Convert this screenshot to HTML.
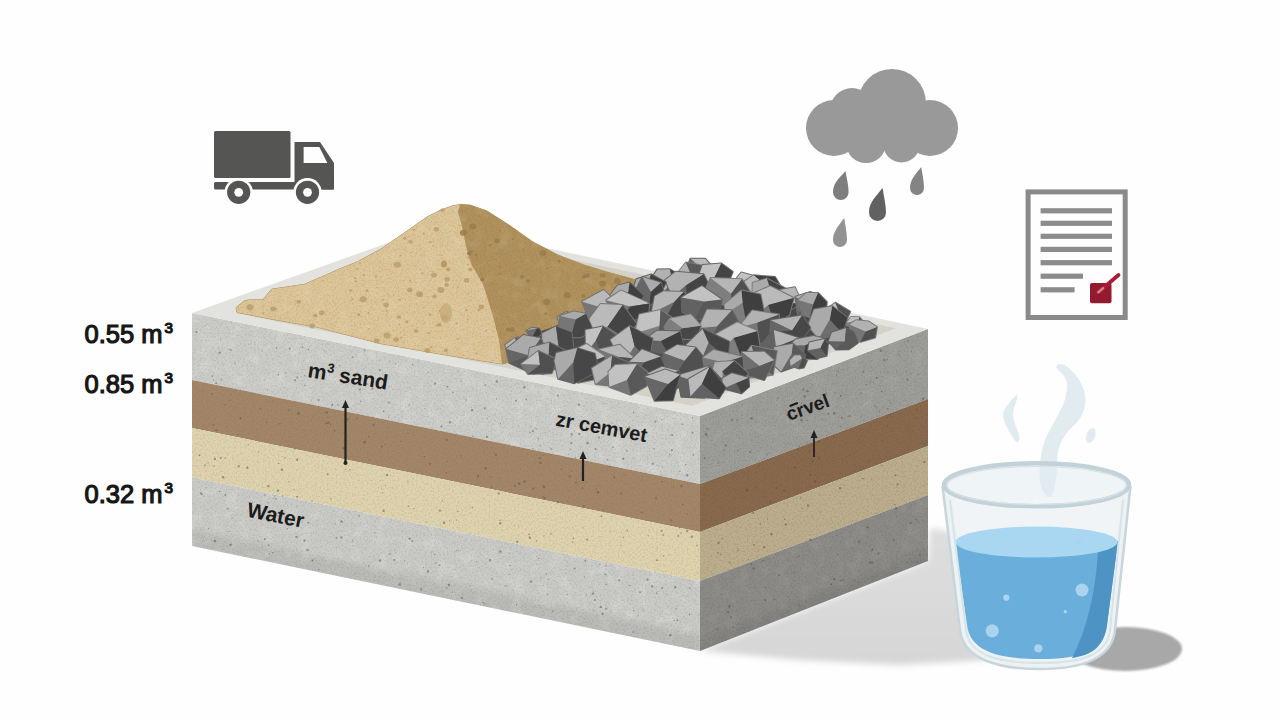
<!DOCTYPE html>
<html><head><meta charset="utf-8"><style>
html,body{margin:0;padding:0;background:#fefefe;overflow:hidden;}
svg{display:block;}
</style></head><body>
<svg width="1280" height="720" viewBox="0 0 1280 720">
<defs>
<clipPath id="frontclip"><polygon points="192,313 700,416 700,651 192,546"/></clipPath>
<clipPath id="rightclip"><polygon points="700,416 928,329 928,561 700,651"/></clipPath>
<filter id="speck" x="0" y="0" width="100%" height="100%">
<feTurbulence type="fractalNoise" baseFrequency="0.55" numOctaves="3" seed="5" result="n"/>
<feColorMatrix in="n" type="matrix" values="0 0 0 0 0  0 0 0 0 0  0 0 0 0 0  0 0 0 -3 1.6" result="a"/>
<feComposite in="SourceGraphic" in2="a" operator="in"/>
</filter>
<filter id="mottle" x="0" y="0" width="100%" height="100%">
<feTurbulence type="fractalNoise" baseFrequency="0.08" numOctaves="2" seed="9" result="n"/>
<feColorMatrix in="n" type="matrix" values="0 0 0 0 1  0 0 0 0 1  0 0 0 0 1  0 0 0 2.2 -1.0" result="a"/>
</filter>
<filter id="blur10" x="-50%" y="-50%" width="200%" height="200%"><feGaussianBlur stdDeviation="9"/></filter>
<filter id="blur3s" x="-50%" y="-50%" width="200%" height="200%"><feGaussianBlur stdDeviation="3"/></filter>
<filter id="blur6" x="-50%" y="-50%" width="200%" height="200%"><feGaussianBlur stdDeviation="5"/></filter>
<filter id="blur4" x="-50%" y="-50%" width="200%" height="200%"><feGaussianBlur stdDeviation="3"/></filter>
<filter id="blur1" x="-50%" y="-50%" width="200%" height="200%"><feGaussianBlur stdDeviation="1.2"/></filter>
<linearGradient id="shadowg" x1="0" y1="0" x2="0" y2="1">
<stop offset="0" stop-color="#dedede"/><stop offset="1" stop-color="#d6d6d6"/></linearGradient>
</defs>
<rect width="1280" height="720" fill="#fefefe"/>
<polygon points="700.0,651.0 928.0,561.0 930.0,528.0 985.0,538.0 985.0,660.0 900.0,665.0 800.0,660.0" fill="url(#shadowg)" filter="url(#blur3s)"/>
<polygon points="192.0,313.0 700.0,416.0 700.0,484.0 192.0,380.0" fill="#cbcbc7"/>
<polygon points="192.0,380.0 700.0,484.0 700.0,532.0 192.0,428.0" fill="#a38668"/>
<polygon points="192.0,428.0 700.0,532.0 700.0,581.0 192.0,477.5" fill="#dfd3ae"/>
<polygon points="192.0,477.5 700.0,581.0 700.0,651.0 192.0,546.0" fill="#c9c9c5"/>
<polygon points="700.0,416.0 928.0,329.0 928.0,399.0 700.0,484.0" fill="#9c9c98"/>
<polygon points="700.0,484.0 928.0,399.0 928.0,446.0 700.0,532.0" fill="#88694c"/>
<polygon points="700.0,532.0 928.0,446.0 928.0,495.0 700.0,581.0" fill="#bcae8c"/>
<polygon points="700.0,581.0 928.0,495.0 928.0,561.0 700.0,651.0" fill="#8b8a86"/>
<clipPath id="grayclipf"><path d="M192,313 L700,416 L700,484 L192,380 Z M192,477.5 L700,581 L700,651 L192,546 Z"/></clipPath>
<clipPath id="grayclipr"><path d="M700,416 L928,329 L928,399 L700,484 Z M700,581 L928,495 L928,561 L700,651 Z"/></clipPath>
<g clip-path="url(#grayclipf)"><rect x="190" y="300" width="520" height="360" fill="#fff" filter="url(#mottle)" opacity="0.22"/></g>
<g clip-path="url(#grayclipr)"><rect x="695" y="320" width="240" height="340" fill="#fff" filter="url(#mottle)" opacity="0.08"/></g>
<g clip-path="url(#frontclip)"><rect x="190" y="300" width="520" height="360" fill="#555" filter="url(#speck)" opacity="0.14"/></g>
<g clip-path="url(#rightclip)"><rect x="695" y="320" width="240" height="340" fill="#444" filter="url(#speck)" opacity="0.15"/></g>
<g fill="#4a4a48" opacity="0.45"><circle cx="278.0" cy="490.6" r="1.2"/><circle cx="336.5" cy="537.9" r="0.8"/><circle cx="601.4" cy="516.2" r="1.0"/><circle cx="460.4" cy="550.8" r="0.5"/><circle cx="381.6" cy="487.9" r="0.5"/><circle cx="267.9" cy="502.7" r="0.6"/><circle cx="544.0" cy="487.0" r="1.2"/><circle cx="582.7" cy="488.0" r="0.8"/><circle cx="212.1" cy="394.4" r="0.8"/><circle cx="544.0" cy="535.9" r="0.7"/><circle cx="206.7" cy="487.7" r="0.5"/><circle cx="257.8" cy="541.1" r="0.8"/><circle cx="276.0" cy="499.1" r="0.8"/><circle cx="438.8" cy="408.0" r="0.5"/><circle cx="431.4" cy="552.1" r="0.5"/><circle cx="587.5" cy="443.3" r="1.2"/><circle cx="574.7" cy="568.4" r="1.0"/><circle cx="692.4" cy="432.8" r="1.0"/><circle cx="434.6" cy="554.4" r="0.6"/><circle cx="366.6" cy="384.0" r="1.0"/><circle cx="401.0" cy="441.3" r="0.8"/><circle cx="447.2" cy="439.9" r="0.8"/><circle cx="389.5" cy="361.2" r="0.5"/><circle cx="274.9" cy="496.0" r="0.8"/><circle cx="196.4" cy="332.0" r="1.0"/><circle cx="571.3" cy="443.1" r="1.0"/><circle cx="355.3" cy="573.2" r="0.5"/><circle cx="285.9" cy="373.0" r="0.7"/><circle cx="614.3" cy="477.3" r="1.0"/><circle cx="662.6" cy="467.2" r="0.6"/><circle cx="228.0" cy="508.8" r="0.8"/><circle cx="383.6" cy="510.8" r="1.2"/><circle cx="456.4" cy="520.0" r="0.6"/><circle cx="399.7" cy="584.4" r="1.2"/><circle cx="492.0" cy="579.1" r="0.8"/><circle cx="449.6" cy="520.6" r="0.6"/><circle cx="276.6" cy="348.1" r="0.8"/><circle cx="584.3" cy="505.9" r="0.7"/><circle cx="221.2" cy="380.0" r="0.7"/><circle cx="212.5" cy="376.1" r="0.8"/><circle cx="229.9" cy="400.2" r="0.6"/><circle cx="689.7" cy="588.2" r="0.8"/><circle cx="219.8" cy="352.6" r="1.2"/><circle cx="459.4" cy="536.8" r="0.5"/><circle cx="674.3" cy="620.5" r="0.7"/><circle cx="595.0" cy="600.0" r="1.0"/><circle cx="583.7" cy="506.1" r="0.8"/><circle cx="349.9" cy="469.7" r="0.7"/><circle cx="265.1" cy="495.1" r="0.8"/><circle cx="539.7" cy="605.3" r="0.5"/><circle cx="328.0" cy="417.4" r="0.6"/><circle cx="623.4" cy="537.3" r="0.7"/><circle cx="538.6" cy="558.4" r="0.6"/><circle cx="262.2" cy="351.0" r="0.5"/><circle cx="288.9" cy="481.8" r="0.6"/><circle cx="231.2" cy="350.2" r="0.7"/><circle cx="258.6" cy="452.0" r="0.7"/><circle cx="394.3" cy="560.1" r="1.0"/><circle cx="278.5" cy="374.7" r="0.8"/><circle cx="296.4" cy="506.9" r="0.5"/><circle cx="498.8" cy="493.4" r="1.2"/><circle cx="584.4" cy="576.9" r="0.5"/><circle cx="390.0" cy="553.8" r="0.8"/><circle cx="579.3" cy="433.9" r="1.2"/><circle cx="312.4" cy="560.6" r="1.0"/><circle cx="352.7" cy="357.2" r="0.8"/><circle cx="273.6" cy="498.1" r="0.7"/><circle cx="606.3" cy="584.2" r="0.8"/><circle cx="672.0" cy="435.1" r="1.0"/><circle cx="225.2" cy="458.0" r="0.7"/><circle cx="681.5" cy="485.9" r="1.2"/><circle cx="509.2" cy="553.8" r="0.6"/><circle cx="227.1" cy="508.8" r="0.6"/><circle cx="373.7" cy="424.9" r="0.8"/><circle cx="249.1" cy="344.0" r="0.5"/><circle cx="510.2" cy="565.5" r="0.8"/><circle cx="449.0" cy="584.9" r="1.2"/><circle cx="519.3" cy="483.3" r="1.0"/><circle cx="453.0" cy="569.4" r="0.5"/><circle cx="308.4" cy="349.8" r="0.8"/><circle cx="216.1" cy="383.0" r="1.0"/><circle cx="606.1" cy="565.9" r="0.8"/><circle cx="596.2" cy="488.9" r="0.7"/><circle cx="439.9" cy="510.6" r="1.2"/><circle cx="238.0" cy="434.3" r="0.8"/><circle cx="382.6" cy="492.6" r="0.6"/><circle cx="587.1" cy="539.6" r="1.0"/><circle cx="531.0" cy="581.6" r="1.2"/><circle cx="607.6" cy="459.7" r="0.8"/><circle cx="656.1" cy="498.2" r="1.0"/><circle cx="387.1" cy="475.0" r="1.2"/><circle cx="692.6" cy="418.0" r="0.7"/><circle cx="296.6" cy="537.1" r="1.2"/><circle cx="268.1" cy="457.3" r="0.5"/><circle cx="457.8" cy="511.5" r="0.8"/><circle cx="568.4" cy="497.9" r="0.5"/><circle cx="693.4" cy="455.1" r="0.8"/><circle cx="298.5" cy="413.5" r="1.2"/><circle cx="487.6" cy="418.4" r="0.5"/><circle cx="673.5" cy="487.0" r="0.7"/><circle cx="670.3" cy="635.3" r="1.2"/><circle cx="450.0" cy="422.2" r="1.2"/><circle cx="334.5" cy="430.9" r="0.8"/><circle cx="429.9" cy="463.7" r="1.0"/><circle cx="529.9" cy="537.7" r="1.2"/><circle cx="388.5" cy="417.4" r="0.6"/><circle cx="685.5" cy="464.8" r="0.7"/><circle cx="602.6" cy="613.8" r="1.2"/><circle cx="379.9" cy="370.3" r="1.0"/><circle cx="214.8" cy="458.9" r="1.2"/><circle cx="421.2" cy="589.3" r="1.0"/><circle cx="269.4" cy="553.8" r="0.6"/><circle cx="423.4" cy="567.6" r="0.7"/><circle cx="278.6" cy="463.5" r="0.8"/><circle cx="461.3" cy="380.9" r="0.6"/><circle cx="404.8" cy="561.0" r="0.6"/><circle cx="308.2" cy="522.7" r="1.0"/><circle cx="660.4" cy="613.9" r="0.5"/><circle cx="526.3" cy="399.6" r="0.8"/><circle cx="647.5" cy="579.7" r="1.2"/><circle cx="289.7" cy="348.5" r="1.0"/><circle cx="500.1" cy="520.3" r="0.8"/><circle cx="536.6" cy="540.6" r="0.6"/><circle cx="330.7" cy="424.2" r="0.7"/><circle cx="516.9" cy="383.0" r="0.5"/><circle cx="531.1" cy="426.7" r="0.5"/><circle cx="536.0" cy="428.5" r="0.7"/><circle cx="372.2" cy="388.8" r="1.0"/><circle cx="444.0" cy="522.7" r="1.2"/><circle cx="395.9" cy="363.8" r="0.6"/><circle cx="663.2" cy="534.9" r="0.8"/><circle cx="295.1" cy="380.3" r="1.0"/><circle cx="408.0" cy="433.4" r="0.6"/><circle cx="302.5" cy="346.7" r="0.7"/><circle cx="500.2" cy="523.2" r="1.2"/><circle cx="282.6" cy="496.1" r="0.8"/><circle cx="435.7" cy="563.1" r="0.8"/><circle cx="600.8" cy="606.9" r="1.2"/><circle cx="223.0" cy="477.3" r="1.2"/><circle cx="649.1" cy="530.8" r="0.5"/><circle cx="683.0" cy="504.7" r="0.8"/><circle cx="666.2" cy="594.4" r="0.5"/><circle cx="654.3" cy="448.8" r="0.7"/><circle cx="500.4" cy="551.5" r="1.2"/><circle cx="571.5" cy="434.0" r="1.0"/><circle cx="446.8" cy="461.5" r="0.6"/><circle cx="697.0" cy="545.6" r="0.8"/><circle cx="567.2" cy="594.5" r="0.7"/><circle cx="652.8" cy="463.8" r="1.0"/><circle cx="284.7" cy="457.6" r="0.7"/><circle cx="483.2" cy="602.8" r="0.8"/><circle cx="675.2" cy="587.3" r="1.2"/><circle cx="567.3" cy="562.0" r="0.6"/><circle cx="661.6" cy="531.0" r="1.0"/><circle cx="343.9" cy="382.8" r="1.2"/><circle cx="408.4" cy="506.2" r="0.8"/><circle cx="572.9" cy="542.2" r="0.7"/><circle cx="287.7" cy="524.1" r="0.6"/><circle cx="441.3" cy="426.6" r="1.0"/><circle cx="626.9" cy="450.7" r="0.7"/><circle cx="490.0" cy="560.2" r="1.2"/><circle cx="265.1" cy="380.0" r="0.6"/><circle cx="384.6" cy="444.5" r="0.5"/><circle cx="586.1" cy="594.7" r="0.7"/><circle cx="484.9" cy="604.0" r="0.6"/><circle cx="439.5" cy="565.2" r="1.0"/><circle cx="603.6" cy="509.8" r="0.5"/><circle cx="208.6" cy="528.3" r="0.6"/><circle cx="446.4" cy="472.7" r="0.8"/><circle cx="478.0" cy="476.1" r="1.2"/><circle cx="543.6" cy="585.6" r="0.5"/><circle cx="383.6" cy="411.4" r="0.8"/><circle cx="593.8" cy="610.5" r="0.6"/><circle cx="494.5" cy="453.0" r="0.5"/><circle cx="570.2" cy="449.0" r="0.6"/><circle cx="268.5" cy="521.1" r="0.7"/><circle cx="247.4" cy="467.7" r="1.2"/><circle cx="304.8" cy="385.3" r="0.8"/><circle cx="582.9" cy="508.4" r="0.5"/><circle cx="540.3" cy="462.8" r="1.2"/><circle cx="457.9" cy="371.0" r="0.6"/><circle cx="337.7" cy="404.8" r="0.8"/><circle cx="225.4" cy="495.0" r="1.0"/><circle cx="524.4" cy="387.3" r="1.2"/><circle cx="311.9" cy="501.0" r="0.8"/><circle cx="446.8" cy="588.0" r="0.7"/><circle cx="412.6" cy="364.6" r="0.7"/><circle cx="266.7" cy="422.3" r="0.8"/><circle cx="514.8" cy="485.7" r="1.0"/><circle cx="489.9" cy="476.5" r="0.6"/><circle cx="205.0" cy="465.0" r="0.8"/><circle cx="619.3" cy="580.3" r="1.0"/><circle cx="571.8" cy="471.5" r="0.6"/><circle cx="278.0" cy="515.7" r="0.7"/><circle cx="543.3" cy="455.2" r="0.5"/><circle cx="424.8" cy="408.6" r="0.5"/><circle cx="509.0" cy="574.4" r="0.6"/><circle cx="472.1" cy="410.1" r="1.2"/><circle cx="253.2" cy="420.3" r="0.5"/><circle cx="297.2" cy="496.8" r="1.0"/><circle cx="204.0" cy="496.1" r="0.6"/><circle cx="496.5" cy="398.9" r="0.6"/><circle cx="412.2" cy="540.9" r="1.0"/><circle cx="546.3" cy="574.0" r="0.8"/><circle cx="347.2" cy="419.5" r="1.2"/><circle cx="374.8" cy="532.4" r="0.5"/><circle cx="485.3" cy="385.1" r="0.8"/><circle cx="583.0" cy="527.9" r="0.6"/><circle cx="214.1" cy="466.2" r="0.7"/><circle cx="585.4" cy="560.7" r="1.0"/><circle cx="610.0" cy="466.4" r="0.7"/><circle cx="529.0" cy="534.4" r="0.8"/><circle cx="656.0" cy="476.7" r="0.5"/><circle cx="339.5" cy="365.7" r="0.7"/><circle cx="607.8" cy="431.1" r="1.2"/><circle cx="270.1" cy="401.6" r="0.5"/><circle cx="330.6" cy="498.6" r="0.6"/><circle cx="219.7" cy="491.5" r="0.8"/><circle cx="452.9" cy="392.3" r="0.8"/><circle cx="304.6" cy="540.5" r="1.2"/><circle cx="294.8" cy="449.3" r="0.7"/><circle cx="500.9" cy="477.8" r="0.5"/><circle cx="409.0" cy="405.0" r="0.5"/><circle cx="304.5" cy="375.8" r="0.7"/><circle cx="201.6" cy="494.1" r="1.2"/><circle cx="679.9" cy="471.4" r="0.7"/><circle cx="460.8" cy="455.9" r="0.7"/><circle cx="547.7" cy="594.2" r="0.6"/><circle cx="542.9" cy="496.8" r="0.7"/><circle cx="380.1" cy="560.5" r="1.2"/><circle cx="268.3" cy="486.2" r="1.2"/><circle cx="534.9" cy="606.7" r="0.5"/><circle cx="318.8" cy="569.5" r="0.7"/><circle cx="476.6" cy="561.7" r="0.6"/><circle cx="557.9" cy="395.6" r="1.0"/><circle cx="332.3" cy="404.7" r="1.0"/><circle cx="580.7" cy="446.9" r="0.5"/><circle cx="633.7" cy="610.7" r="0.8"/><circle cx="687.2" cy="530.7" r="1.2"/><circle cx="529.9" cy="432.3" r="0.6"/><circle cx="524.5" cy="481.6" r="1.2"/><circle cx="662.1" cy="588.1" r="1.0"/><circle cx="389.3" cy="386.5" r="0.5"/><circle cx="574.4" cy="430.8" r="0.5"/><circle cx="579.0" cy="404.6" r="1.2"/><circle cx="359.9" cy="389.6" r="1.0"/><circle cx="343.8" cy="448.2" r="1.2"/><circle cx="341.5" cy="521.4" r="1.2"/><circle cx="473.7" cy="436.4" r="0.5"/><circle cx="548.0" cy="579.6" r="0.7"/><circle cx="428.0" cy="571.5" r="1.2"/><circle cx="328.4" cy="422.8" r="1.0"/><circle cx="368.5" cy="565.8" r="0.7"/><circle cx="298.0" cy="373.4" r="0.5"/><circle cx="335.2" cy="523.9" r="0.5"/><circle cx="682.1" cy="424.3" r="0.7"/><circle cx="543.7" cy="502.6" r="0.5"/><circle cx="599.0" cy="437.5" r="1.0"/><circle cx="538.5" cy="438.7" r="0.6"/><circle cx="621.0" cy="545.4" r="0.6"/><circle cx="500.5" cy="423.3" r="0.6"/><circle cx="662.1" cy="481.5" r="0.7"/><circle cx="359.1" cy="515.9" r="0.8"/><circle cx="593.1" cy="593.5" r="1.2"/><circle cx="661.7" cy="419.7" r="0.7"/><circle cx="356.6" cy="418.2" r="0.8"/><circle cx="582.2" cy="437.8" r="0.5"/><circle cx="505.8" cy="585.8" r="0.8"/><circle cx="426.8" cy="521.9" r="0.6"/><circle cx="289.0" cy="475.9" r="0.5"/><circle cx="637.8" cy="615.7" r="0.5"/><circle cx="648.5" cy="535.8" r="0.6"/><circle cx="606.0" cy="608.7" r="1.0"/><circle cx="599.6" cy="564.3" r="0.5"/><circle cx="691.9" cy="536.7" r="1.2"/><circle cx="514.6" cy="525.5" r="0.5"/><circle cx="633.4" cy="632.0" r="0.8"/><circle cx="240.3" cy="418.2" r="1.0"/><circle cx="629.3" cy="585.5" r="0.8"/><circle cx="572.1" cy="435.1" r="0.7"/><circle cx="516.6" cy="604.7" r="0.7"/><circle cx="229.6" cy="531.5" r="0.6"/><circle cx="657.0" cy="560.2" r="1.0"/><circle cx="326.6" cy="423.2" r="1.0"/><circle cx="569.6" cy="476.4" r="1.0"/><circle cx="220.7" cy="338.9" r="0.6"/><circle cx="641.9" cy="512.4" r="0.8"/><circle cx="341.5" cy="537.4" r="1.2"/><circle cx="472.3" cy="436.2" r="0.6"/><circle cx="540.0" cy="458.2" r="1.0"/><circle cx="491.6" cy="487.0" r="0.8"/><circle cx="573.5" cy="538.2" r="0.7"/><circle cx="297.4" cy="377.6" r="1.0"/><circle cx="460.6" cy="577.7" r="0.5"/><circle cx="669.7" cy="454.7" r="0.8"/><circle cx="408.0" cy="481.8" r="0.6"/><circle cx="447.5" cy="386.8" r="1.0"/><circle cx="518.6" cy="526.0" r="0.5"/><circle cx="621.4" cy="532.0" r="0.5"/><circle cx="297.2" cy="459.7" r="1.2"/><circle cx="200.6" cy="493.0" r="1.0"/><circle cx="683.0" cy="595.0" r="0.6"/><circle cx="517.2" cy="541.8" r="1.2"/><circle cx="621.2" cy="493.5" r="1.0"/><circle cx="543.3" cy="485.6" r="0.5"/><circle cx="552.8" cy="611.3" r="0.8"/><circle cx="294.1" cy="489.6" r="0.7"/><circle cx="663.6" cy="556.0" r="0.8"/><circle cx="442.3" cy="500.7" r="0.6"/><circle cx="225.0" cy="404.7" r="0.7"/><circle cx="678.3" cy="535.9" r="1.0"/><circle cx="223.8" cy="477.0" r="0.6"/><circle cx="629.4" cy="427.5" r="1.2"/><circle cx="595.6" cy="449.1" r="1.0"/><circle cx="281.9" cy="469.7" r="1.2"/><circle cx="657.3" cy="548.9" r="0.5"/><circle cx="676.2" cy="609.0" r="0.8"/><circle cx="610.6" cy="531.0" r="0.6"/><circle cx="279.8" cy="423.8" r="0.7"/><circle cx="428.3" cy="372.5" r="0.6"/><circle cx="268.5" cy="545.2" r="0.8"/><circle cx="518.8" cy="484.4" r="0.8"/><circle cx="598.6" cy="485.8" r="0.5"/><circle cx="533.0" cy="431.3" r="1.0"/><circle cx="612.0" cy="423.1" r="0.7"/><circle cx="214.9" cy="541.0" r="1.2"/><circle cx="364.5" cy="442.2" r="1.2"/><circle cx="435.1" cy="383.6" r="1.2"/><circle cx="655.4" cy="421.4" r="1.0"/><circle cx="484.7" cy="408.2" r="1.0"/><circle cx="445.8" cy="439.9" r="0.5"/><circle cx="424.5" cy="456.8" r="0.8"/><circle cx="605.5" cy="574.5" r="1.0"/><circle cx="598.1" cy="492.2" r="1.2"/><circle cx="652.2" cy="586.4" r="1.2"/><circle cx="551.1" cy="448.9" r="0.8"/><circle cx="327.6" cy="474.3" r="1.0"/><circle cx="409.6" cy="538.6" r="1.2"/><circle cx="586.2" cy="482.6" r="0.7"/><circle cx="642.9" cy="609.0" r="0.6"/><circle cx="352.5" cy="540.7" r="0.7"/><circle cx="575.5" cy="458.0" r="0.8"/><circle cx="208.1" cy="462.7" r="0.7"/><circle cx="230.1" cy="349.6" r="0.8"/><circle cx="671.3" cy="520.6" r="0.8"/><circle cx="360.7" cy="401.5" r="0.7"/><circle cx="233.0" cy="518.0" r="0.6"/><circle cx="470.0" cy="585.3" r="0.6"/><circle cx="382.0" cy="446.5" r="1.0"/><circle cx="681.1" cy="532.7" r="0.8"/><circle cx="248.5" cy="444.8" r="0.6"/><circle cx="238.7" cy="466.1" r="1.2"/><circle cx="679.4" cy="527.7" r="0.8"/><circle cx="595.6" cy="449.5" r="0.6"/><circle cx="204.4" cy="466.0" r="0.6"/><circle cx="220.8" cy="458.0" r="1.0"/><circle cx="545.2" cy="432.2" r="0.5"/><circle cx="661.4" cy="475.1" r="0.5"/><circle cx="610.5" cy="611.1" r="0.5"/><circle cx="540.9" cy="577.8" r="0.6"/><circle cx="656.7" cy="593.2" r="0.8"/><circle cx="368.6" cy="436.7" r="0.8"/><circle cx="568.7" cy="454.2" r="0.5"/><circle cx="466.3" cy="400.0" r="0.8"/><circle cx="472.5" cy="507.5" r="0.7"/><circle cx="670.5" cy="519.1" r="0.5"/><circle cx="487.1" cy="436.9" r="1.2"/><circle cx="540.3" cy="446.0" r="0.7"/><circle cx="349.2" cy="512.1" r="0.6"/><circle cx="677.4" cy="620.3" r="1.0"/><circle cx="213.4" cy="379.8" r="0.6"/><circle cx="390.5" cy="475.4" r="0.5"/><circle cx="687.1" cy="475.2" r="1.2"/><circle cx="516.0" cy="400.8" r="1.0"/><circle cx="369.4" cy="459.9" r="0.7"/><circle cx="230.5" cy="544.9" r="1.2"/><circle cx="623.2" cy="458.7" r="1.2"/><circle cx="364.5" cy="350.1" r="0.8"/><circle cx="551.0" cy="534.0" r="0.8"/><circle cx="671.9" cy="450.2" r="1.0"/><circle cx="202.6" cy="541.5" r="0.5"/><circle cx="267.4" cy="390.0" r="0.5"/><circle cx="264.9" cy="538.9" r="1.0"/><circle cx="307.5" cy="549.9" r="1.2"/><circle cx="612.8" cy="447.0" r="0.7"/><circle cx="624.2" cy="475.0" r="0.6"/><circle cx="260.5" cy="408.7" r="0.8"/><circle cx="532.7" cy="448.6" r="0.7"/><circle cx="389.0" cy="402.6" r="1.0"/><circle cx="287.3" cy="528.8" r="0.7"/><circle cx="633.8" cy="412.2" r="0.7"/><circle cx="318.6" cy="400.0" r="1.0"/><circle cx="485.6" cy="468.3" r="1.2"/><circle cx="496.0" cy="454.7" r="1.0"/><circle cx="199.5" cy="455.3" r="1.0"/><circle cx="213.6" cy="424.9" r="0.8"/><circle cx="533.4" cy="488.6" r="1.0"/><circle cx="272.7" cy="552.7" r="0.8"/><circle cx="414.1" cy="508.5" r="0.6"/><circle cx="461.7" cy="597.7" r="1.0"/><circle cx="216.3" cy="430.2" r="1.0"/><circle cx="687.3" cy="513.9" r="0.7"/><circle cx="409.6" cy="387.8" r="0.5"/><circle cx="326.7" cy="412.4" r="1.2"/><circle cx="288.7" cy="410.0" r="0.8"/><circle cx="561.0" cy="469.2" r="0.6"/><circle cx="689.5" cy="614.5" r="0.7"/><circle cx="544.6" cy="498.1" r="1.2"/><circle cx="452.6" cy="592.1" r="0.6"/><circle cx="558.0" cy="502.2" r="1.0"/><circle cx="235.0" cy="363.0" r="0.7"/><circle cx="640.0" cy="592.2" r="1.0"/><circle cx="627.2" cy="530.3" r="0.8"/><circle cx="388.4" cy="427.3" r="0.6"/><circle cx="385.3" cy="485.4" r="0.6"/><circle cx="456.9" cy="550.5" r="0.7"/><circle cx="345.5" cy="469.4" r="0.7"/><circle cx="496.9" cy="381.6" r="1.2"/><circle cx="576.0" cy="482.4" r="0.8"/><circle cx="252.7" cy="502.3" r="0.6"/><circle cx="855.5" cy="524.5" r="0.5"/><circle cx="748.4" cy="559.7" r="0.8"/><circle cx="718.0" cy="552.9" r="0.8"/><circle cx="737.6" cy="450.7" r="0.8"/><circle cx="705.8" cy="434.0" r="1.2"/><circle cx="811.9" cy="516.1" r="0.6"/><circle cx="810.1" cy="475.1" r="1.0"/><circle cx="746.3" cy="580.2" r="0.5"/><circle cx="924.3" cy="461.9" r="1.2"/><circle cx="866.3" cy="384.7" r="0.6"/><circle cx="771.5" cy="534.3" r="1.2"/><circle cx="872.2" cy="549.9" r="1.0"/><circle cx="723.5" cy="450.0" r="0.7"/><circle cx="863.3" cy="371.8" r="1.0"/><circle cx="760.2" cy="523.8" r="0.8"/><circle cx="796.5" cy="597.3" r="0.5"/><circle cx="799.2" cy="605.2" r="0.6"/><circle cx="770.3" cy="502.5" r="1.2"/><circle cx="804.8" cy="396.3" r="1.2"/><circle cx="863.0" cy="478.8" r="0.8"/><circle cx="861.6" cy="478.4" r="0.5"/><circle cx="836.4" cy="374.9" r="0.6"/><circle cx="809.6" cy="551.1" r="0.5"/><circle cx="893.3" cy="428.8" r="0.6"/><circle cx="777.9" cy="610.3" r="0.5"/><circle cx="896.0" cy="508.4" r="1.2"/><circle cx="733.9" cy="477.2" r="0.5"/><circle cx="801.5" cy="403.3" r="0.7"/><circle cx="715.4" cy="445.1" r="0.6"/><circle cx="731.0" cy="617.2" r="1.0"/><circle cx="881.9" cy="465.4" r="0.7"/><circle cx="802.0" cy="508.7" r="0.6"/><circle cx="710.1" cy="598.0" r="0.5"/><circle cx="799.3" cy="445.9" r="0.7"/><circle cx="846.5" cy="567.8" r="0.5"/><circle cx="750.1" cy="452.1" r="1.0"/><circle cx="809.4" cy="451.0" r="0.8"/><circle cx="765.6" cy="587.4" r="0.6"/><circle cx="799.5" cy="556.2" r="0.8"/><circle cx="838.0" cy="371.2" r="0.7"/><circle cx="879.6" cy="411.5" r="0.8"/><circle cx="840.2" cy="488.3" r="1.2"/><circle cx="737.6" cy="548.7" r="0.6"/><circle cx="721.3" cy="594.1" r="0.8"/><circle cx="784.1" cy="490.7" r="1.0"/><circle cx="915.8" cy="519.5" r="0.7"/><circle cx="841.0" cy="426.2" r="0.6"/><circle cx="852.6" cy="520.8" r="0.5"/><circle cx="753.9" cy="545.1" r="1.0"/><circle cx="777.7" cy="398.3" r="0.8"/><circle cx="871.7" cy="478.9" r="0.7"/><circle cx="820.6" cy="512.7" r="0.5"/><circle cx="889.8" cy="414.8" r="1.0"/><circle cx="880.6" cy="350.7" r="1.2"/><circle cx="840.8" cy="580.8" r="0.8"/><circle cx="907.5" cy="562.2" r="0.6"/><circle cx="799.8" cy="608.0" r="0.6"/><circle cx="817.5" cy="573.0" r="0.6"/><circle cx="801.1" cy="410.7" r="0.6"/><circle cx="906.6" cy="371.8" r="0.6"/><circle cx="733.3" cy="627.4" r="0.7"/><circle cx="881.6" cy="391.5" r="0.8"/><circle cx="894.2" cy="456.1" r="0.5"/><circle cx="870.2" cy="381.7" r="0.6"/><circle cx="794.0" cy="572.1" r="0.8"/><circle cx="726.1" cy="445.6" r="0.8"/><circle cx="753.2" cy="513.1" r="1.0"/><circle cx="851.5" cy="473.0" r="0.5"/><circle cx="784.8" cy="519.2" r="0.8"/><circle cx="843.6" cy="484.8" r="0.6"/><circle cx="704.0" cy="599.8" r="0.6"/><circle cx="766.8" cy="454.8" r="0.7"/><circle cx="836.7" cy="535.4" r="0.6"/><circle cx="859.0" cy="541.7" r="1.0"/><circle cx="764.0" cy="547.2" r="1.2"/><circle cx="819.1" cy="458.4" r="1.0"/><circle cx="872.0" cy="562.5" r="1.2"/><circle cx="794.8" cy="467.5" r="1.0"/><circle cx="820.0" cy="397.9" r="0.7"/><circle cx="774.5" cy="599.6" r="0.8"/><circle cx="806.7" cy="442.9" r="0.6"/><circle cx="719.8" cy="465.3" r="0.5"/><circle cx="730.4" cy="633.0" r="0.5"/><circle cx="810.5" cy="539.7" r="1.2"/><circle cx="833.6" cy="437.3" r="0.8"/><circle cx="882.9" cy="441.2" r="0.8"/><circle cx="851.8" cy="548.2" r="0.6"/><circle cx="897.8" cy="484.3" r="1.0"/><circle cx="746.8" cy="615.5" r="0.5"/><circle cx="840.6" cy="478.8" r="0.6"/><circle cx="751.6" cy="418.2" r="1.2"/><circle cx="718.1" cy="462.7" r="0.8"/><circle cx="789.8" cy="600.2" r="0.6"/><circle cx="774.7" cy="546.1" r="0.6"/><circle cx="736.8" cy="420.1" r="0.8"/><circle cx="841.9" cy="417.7" r="1.0"/><circle cx="735.8" cy="617.8" r="0.5"/><circle cx="919.7" cy="554.7" r="0.8"/><circle cx="722.2" cy="548.1" r="0.5"/><circle cx="917.7" cy="336.1" r="0.6"/><circle cx="876.7" cy="377.7" r="1.0"/><circle cx="869.9" cy="562.5" r="1.2"/><circle cx="818.8" cy="441.4" r="1.2"/><circle cx="868.9" cy="461.5" r="0.6"/><circle cx="908.1" cy="340.9" r="0.8"/><circle cx="765.2" cy="600.1" r="1.0"/><circle cx="808.2" cy="505.4" r="1.2"/><circle cx="893.9" cy="540.1" r="1.0"/><circle cx="834.1" cy="578.9" r="1.2"/><circle cx="887.8" cy="408.5" r="0.8"/><circle cx="778.9" cy="575.1" r="1.0"/><circle cx="812.5" cy="385.0" r="0.6"/><circle cx="747.5" cy="477.2" r="0.5"/><circle cx="887.3" cy="417.2" r="0.8"/><circle cx="769.2" cy="574.4" r="0.5"/><circle cx="722.0" cy="538.7" r="0.8"/><circle cx="874.8" cy="406.4" r="0.7"/><circle cx="812.8" cy="461.1" r="1.0"/><circle cx="706.6" cy="435.4" r="0.8"/><circle cx="707.0" cy="621.7" r="0.6"/><circle cx="720.7" cy="554.4" r="0.7"/><circle cx="837.7" cy="554.6" r="0.8"/><circle cx="741.5" cy="415.8" r="0.5"/><circle cx="759.4" cy="465.6" r="0.8"/><circle cx="887.4" cy="425.6" r="0.7"/><circle cx="876.2" cy="406.7" r="0.5"/><circle cx="887.4" cy="359.6" r="0.6"/><circle cx="804.4" cy="606.8" r="0.5"/><circle cx="728.2" cy="612.1" r="1.2"/><circle cx="859.1" cy="439.3" r="0.6"/><circle cx="806.6" cy="601.7" r="0.6"/><circle cx="826.6" cy="435.5" r="0.6"/><circle cx="911.4" cy="351.8" r="0.6"/><circle cx="807.5" cy="391.2" r="1.2"/><circle cx="803.2" cy="389.4" r="1.0"/><circle cx="923.0" cy="398.7" r="1.2"/><circle cx="714.7" cy="628.7" r="0.5"/><circle cx="858.7" cy="582.0" r="0.6"/><circle cx="747.0" cy="490.0" r="1.2"/><circle cx="828.5" cy="414.0" r="1.0"/><circle cx="882.8" cy="435.4" r="0.7"/><circle cx="707.3" cy="428.7" r="1.0"/><circle cx="898.8" cy="354.8" r="0.8"/><circle cx="767.4" cy="518.9" r="0.6"/><circle cx="797.3" cy="556.8" r="0.6"/><circle cx="704.8" cy="458.2" r="1.0"/><circle cx="806.9" cy="420.2" r="0.7"/><circle cx="815.0" cy="481.2" r="1.2"/><circle cx="729.8" cy="562.3" r="0.8"/><circle cx="842.6" cy="458.8" r="0.5"/><circle cx="918.5" cy="522.4" r="0.6"/><circle cx="763.3" cy="560.8" r="0.7"/><circle cx="732.0" cy="419.9" r="1.0"/><circle cx="894.9" cy="504.6" r="0.8"/><circle cx="917.2" cy="550.0" r="0.5"/><circle cx="730.2" cy="604.3" r="0.7"/><circle cx="918.2" cy="374.7" r="0.6"/><circle cx="916.6" cy="409.4" r="1.0"/><circle cx="725.3" cy="445.3" r="1.0"/><circle cx="884.4" cy="360.1" r="1.0"/><circle cx="736.2" cy="611.0" r="0.5"/><circle cx="785.9" cy="524.4" r="1.2"/><circle cx="842.7" cy="579.8" r="0.8"/><circle cx="800.6" cy="498.1" r="0.7"/><circle cx="706.7" cy="477.2" r="0.5"/><circle cx="867.6" cy="527.2" r="1.2"/><circle cx="887.9" cy="372.2" r="0.6"/><circle cx="742.4" cy="497.3" r="0.6"/><circle cx="801.5" cy="420.0" r="1.2"/><circle cx="756.5" cy="487.5" r="0.7"/><circle cx="787.5" cy="415.3" r="0.8"/><circle cx="840.8" cy="395.8" r="1.0"/><circle cx="915.6" cy="417.9" r="0.8"/><circle cx="910.7" cy="523.2" r="1.0"/><circle cx="796.6" cy="485.1" r="0.6"/><circle cx="751.5" cy="564.2" r="1.0"/><circle cx="744.7" cy="473.8" r="0.5"/><circle cx="878.3" cy="553.4" r="1.2"/><circle cx="923.7" cy="485.8" r="0.6"/><circle cx="753.7" cy="568.8" r="1.2"/><circle cx="718.6" cy="542.7" r="1.2"/><circle cx="717.8" cy="629.6" r="0.8"/><circle cx="738.3" cy="550.5" r="0.8"/><circle cx="890.6" cy="403.0" r="0.7"/><circle cx="790.8" cy="585.5" r="0.6"/><circle cx="826.2" cy="393.6" r="0.7"/><circle cx="849.9" cy="455.2" r="0.7"/><circle cx="834.2" cy="413.3" r="1.2"/><circle cx="896.6" cy="516.0" r="0.6"/><circle cx="835.0" cy="392.3" r="0.5"/><circle cx="831.1" cy="584.3" r="1.0"/><circle cx="907.5" cy="379.6" r="1.0"/><circle cx="793.6" cy="399.2" r="0.5"/><circle cx="822.0" cy="418.9" r="0.7"/><circle cx="861.3" cy="393.2" r="0.8"/><circle cx="917.5" cy="562.1" r="0.7"/><circle cx="729.3" cy="606.5" r="1.2"/><circle cx="776.3" cy="488.1" r="1.0"/><circle cx="895.5" cy="475.3" r="1.0"/><circle cx="849.5" cy="416.1" r="1.0"/></g>
<g clip-path="url(#frontclip)"><polygon points="192,530 700,635 700,660 192,560" fill="#000" opacity="0.07" filter="url(#blur4)"/></g>
<g clip-path="url(#rightclip)"><polygon points="700,640 928,550 928,570 700,660" fill="#000" opacity="0.06" filter="url(#blur4)"/></g>
<polygon points="192.0,313.0 700.0,416.0 928.0,329.0 438.0,225.0" fill="#e2e2de"/>
<polygon points="253.6,316.6 692.0,405.7 895.7,328.2 471.1,238.3" fill="#d3d1c8"/>
<path d="M237.0,312.5 L236.0,307.7 L244.3,300.9 L249.2,299.9 L262.8,299.9 L271.6,289.2 L288.0,286.8 L304.6,284.3 L327.0,274.6 L340.0,268.8 L357.0,262.0 L381.0,249.0 L407.0,231.0 L427.0,217.0 L441.0,210.0 L452.0,206.0 L460.0,204.5 L470.0,205.0 L487.0,211.0 L509.0,225.0 L533.0,242.0 L558.0,255.0 L584.0,265.0 L607.0,272.0 L640.0,281.0 L662.0,292.0 L640.0,320.0 L560.0,350.0 L502.0,364.0 L440.0,354.0 L380.0,343.5 L317.0,327.0 L278.0,320.3 Z" fill="#b0915c" stroke="#b0915c" stroke-width="1" stroke-linejoin="round"/>
<path d="M237.0,312.5 L236.0,307.7 L244.3,300.9 L249.2,299.9 L262.8,299.9 L271.6,289.2 L288.0,286.8 L304.6,284.3 L327.0,274.6 L340.0,268.8 L357.0,262.0 L381.0,249.0 L407.0,231.0 L427.0,217.0 L441.0,210.0 L452.0,206.0 L460.0,204.5 L458.0,212.0 L461.5,224.0 L466.0,246.0 L471.5,265.0 L482.5,283.0 L488.0,300.0 L494.0,320.0 L499.0,340.0 L502.0,364.0 L440.0,354.0 L380.0,343.5 L317.0,327.0 L278.0,320.3 Z" fill="#dcc598"/>
<clipPath id="sandclip"><path d="M237.0,312.5 L236.0,307.7 L244.3,300.9 L249.2,299.9 L262.8,299.9 L271.6,289.2 L288.0,286.8 L304.6,284.3 L327.0,274.6 L340.0,268.8 L357.0,262.0 L381.0,249.0 L407.0,231.0 L427.0,217.0 L441.0,210.0 L452.0,206.0 L460.0,204.5 L470.0,205.0 L487.0,211.0 L509.0,225.0 L533.0,242.0 L558.0,255.0 L584.0,265.0 L607.0,272.0 L640.0,281.0 L662.0,292.0 L640.0,320.0 L560.0,350.0 L502.0,364.0 L440.0,354.0 L380.0,343.5 L317.0,327.0 L278.0,320.3 Z"/></clipPath>
<g clip-path="url(#sandclip)"><rect x="230" y="200" width="440" height="170" fill="#7a5c30" filter="url(#speck)" opacity="0.16"/><rect x="230" y="200" width="440" height="170" fill="#fff" filter="url(#mottle)" opacity="0.12"/></g>
<ellipse cx="501.6" cy="320.0" rx="0.8" ry="0.68" fill="#98794a" opacity="0.8"/>
<ellipse cx="592.9" cy="325.3" rx="1.3" ry="1.10" fill="#98794a" opacity="0.8"/>
<ellipse cx="512.6" cy="344.6" rx="1" ry="0.85" fill="#98794a" opacity="0.8"/>
<ellipse cx="396.2" cy="339.6" rx="2.8" ry="2.38" fill="#b89b6a" opacity="0.8"/>
<ellipse cx="468.4" cy="294.0" rx="0.8" ry="0.68" fill="#b89b6a" opacity="0.8"/>
<ellipse cx="547.1" cy="268.3" rx="1" ry="0.85" fill="#98794a" opacity="0.8"/>
<ellipse cx="624.9" cy="323.7" rx="1" ry="0.85" fill="#98794a" opacity="0.8"/>
<ellipse cx="499.5" cy="273.9" rx="1" ry="0.85" fill="#98794a" opacity="0.8"/>
<ellipse cx="466.5" cy="310.1" rx="1.3" ry="1.10" fill="#b89b6a" opacity="0.8"/>
<ellipse cx="583.3" cy="295.9" rx="2.2" ry="1.87" fill="#98794a" opacity="0.8"/>
<ellipse cx="368.5" cy="312.9" rx="1" ry="0.85" fill="#b89b6a" opacity="0.8"/>
<ellipse cx="442.1" cy="314.2" rx="0.8" ry="0.68" fill="#b89b6a" opacity="0.8"/>
<ellipse cx="409.8" cy="290.1" rx="2.8" ry="2.38" fill="#b89b6a" opacity="0.8"/>
<ellipse cx="393.8" cy="294.7" rx="0.8" ry="0.68" fill="#b89b6a" opacity="0.8"/>
<ellipse cx="430.2" cy="314.7" rx="1.3" ry="1.10" fill="#b89b6a" opacity="0.8"/>
<ellipse cx="584.2" cy="276.6" rx="2.2" ry="1.87" fill="#98794a" opacity="0.8"/>
<ellipse cx="434.4" cy="296.4" rx="2.2" ry="1.87" fill="#b89b6a" opacity="0.8"/>
<ellipse cx="383.1" cy="299.7" rx="1" ry="0.85" fill="#b89b6a" opacity="0.8"/>
<ellipse cx="469.0" cy="253.4" rx="2.2" ry="1.87" fill="#98794a" opacity="0.8"/>
<ellipse cx="368.6" cy="328.8" rx="1" ry="0.85" fill="#b89b6a" opacity="0.8"/>
<ellipse cx="542.9" cy="252.9" rx="3.5" ry="2.98" fill="#98794a" opacity="0.8"/>
<ellipse cx="410.5" cy="241.8" rx="2.2" ry="1.87" fill="#b89b6a" opacity="0.8"/>
<ellipse cx="587.0" cy="275.6" rx="2.8" ry="2.38" fill="#98794a" opacity="0.8"/>
<ellipse cx="508.1" cy="329.3" rx="2.2" ry="1.87" fill="#98794a" opacity="0.8"/>
<ellipse cx="547.3" cy="352.2" rx="2.8" ry="2.38" fill="#98794a" opacity="0.8"/>
<ellipse cx="363.8" cy="275.2" rx="1" ry="0.85" fill="#b89b6a" opacity="0.8"/>
<ellipse cx="445.0" cy="318.1" rx="3.5" ry="2.98" fill="#b89b6a" opacity="0.8"/>
<ellipse cx="355.1" cy="277.9" rx="1" ry="0.85" fill="#b89b6a" opacity="0.8"/>
<ellipse cx="463.3" cy="232.8" rx="3.5" ry="2.98" fill="#98794a" opacity="0.8"/>
<ellipse cx="446.6" cy="284.9" rx="2.2" ry="1.87" fill="#b89b6a" opacity="0.8"/>
<ellipse cx="389.4" cy="296.1" rx="0.8" ry="0.68" fill="#b89b6a" opacity="0.8"/>
<ellipse cx="559.0" cy="261.3" rx="1.6" ry="1.36" fill="#98794a" opacity="0.8"/>
<ellipse cx="439.2" cy="324.9" rx="2.2" ry="1.87" fill="#b89b6a" opacity="0.8"/>
<ellipse cx="522.1" cy="276.8" rx="2.2" ry="1.87" fill="#98794a" opacity="0.8"/>
<ellipse cx="386.1" cy="304.8" rx="2.8" ry="2.38" fill="#b89b6a" opacity="0.8"/>
<ellipse cx="387.0" cy="335.6" rx="3.5" ry="2.98" fill="#b89b6a" opacity="0.8"/>
<ellipse cx="457.6" cy="287.0" rx="1" ry="0.85" fill="#b89b6a" opacity="0.8"/>
<ellipse cx="273.1" cy="309.0" rx="2.8" ry="2.38" fill="#b89b6a" opacity="0.8"/>
<ellipse cx="312.2" cy="326.0" rx="2.8" ry="2.38" fill="#b89b6a" opacity="0.8"/>
<ellipse cx="367.1" cy="290.7" rx="1.6" ry="1.36" fill="#b89b6a" opacity="0.8"/>
<ellipse cx="513.0" cy="239.0" rx="1" ry="0.85" fill="#98794a" opacity="0.8"/>
<ellipse cx="438.1" cy="240.1" rx="0.8" ry="0.68" fill="#b89b6a" opacity="0.8"/>
<ellipse cx="470.3" cy="269.4" rx="2.2" ry="1.87" fill="#b89b6a" opacity="0.8"/>
<ellipse cx="399.7" cy="299.8" rx="1.3" ry="1.10" fill="#b89b6a" opacity="0.8"/>
<ellipse cx="357.0" cy="268.6" rx="1" ry="0.85" fill="#b89b6a" opacity="0.8"/>
<ellipse cx="529.3" cy="289.8" rx="0.8" ry="0.68" fill="#98794a" opacity="0.8"/>
<ellipse cx="471.0" cy="251.7" rx="1.6" ry="1.36" fill="#98794a" opacity="0.8"/>
<ellipse cx="469.0" cy="257.6" rx="1.6" ry="1.36" fill="#b89b6a" opacity="0.8"/>
<ellipse cx="416.0" cy="331.0" rx="2.2" ry="1.87" fill="#b89b6a" opacity="0.8"/>
<ellipse cx="436.3" cy="229.3" rx="2.8" ry="2.38" fill="#b89b6a" opacity="0.8"/>
<ellipse cx="476.8" cy="353.4" rx="1" ry="0.85" fill="#b89b6a" opacity="0.8"/>
<ellipse cx="495.6" cy="259.4" rx="0.8" ry="0.68" fill="#98794a" opacity="0.8"/>
<ellipse cx="400.4" cy="255.5" rx="1" ry="0.85" fill="#b89b6a" opacity="0.8"/>
<ellipse cx="376.7" cy="340.9" rx="2.8" ry="2.38" fill="#b89b6a" opacity="0.8"/>
<ellipse cx="447.2" cy="279.3" rx="2.8" ry="2.38" fill="#b89b6a" opacity="0.8"/>
<ellipse cx="401.2" cy="337.5" rx="1" ry="0.85" fill="#b89b6a" opacity="0.8"/>
<ellipse cx="490.2" cy="245.3" rx="1.6" ry="1.36" fill="#98794a" opacity="0.8"/>
<ellipse cx="448.4" cy="269.4" rx="2.2" ry="1.87" fill="#b89b6a" opacity="0.8"/>
<ellipse cx="250.0" cy="307.3" rx="3.5" ry="2.98" fill="#b89b6a" opacity="0.8"/>
<ellipse cx="441.7" cy="291.8" rx="1.3" ry="1.10" fill="#b89b6a" opacity="0.8"/>
<ellipse cx="363.1" cy="299.2" rx="3.5" ry="2.98" fill="#b89b6a" opacity="0.8"/>
<ellipse cx="457.7" cy="338.8" rx="1" ry="0.85" fill="#b89b6a" opacity="0.8"/>
<ellipse cx="358.6" cy="314.7" rx="1.6" ry="1.36" fill="#b89b6a" opacity="0.8"/>
<ellipse cx="386.9" cy="310.7" rx="1" ry="0.85" fill="#b89b6a" opacity="0.8"/>
<ellipse cx="431.4" cy="347.1" rx="1.3" ry="1.10" fill="#b89b6a" opacity="0.8"/>
<ellipse cx="419.6" cy="294.2" rx="3.5" ry="2.98" fill="#b89b6a" opacity="0.8"/>
<ellipse cx="439.8" cy="310.8" rx="1.3" ry="1.10" fill="#b89b6a" opacity="0.8"/>
<ellipse cx="617.5" cy="277.1" rx="1" ry="0.85" fill="#98794a" opacity="0.8"/>
<ellipse cx="567.2" cy="295.2" rx="3.5" ry="2.98" fill="#98794a" opacity="0.8"/>
<ellipse cx="440.9" cy="290.1" rx="3.5" ry="2.98" fill="#b89b6a" opacity="0.8"/>
<ellipse cx="648.6" cy="288.4" rx="2.8" ry="2.38" fill="#98794a" opacity="0.8"/>
<ellipse cx="486.1" cy="330.8" rx="1" ry="0.85" fill="#b89b6a" opacity="0.8"/>
<ellipse cx="410.2" cy="280.4" rx="1" ry="0.85" fill="#b89b6a" opacity="0.8"/>
<ellipse cx="511.2" cy="352.6" rx="1" ry="0.85" fill="#98794a" opacity="0.8"/>
<ellipse cx="423.9" cy="233.4" rx="1" ry="0.85" fill="#b89b6a" opacity="0.8"/>
<ellipse cx="413.9" cy="230.0" rx="1.3" ry="1.10" fill="#b89b6a" opacity="0.8"/>
<ellipse cx="551.8" cy="341.2" rx="1" ry="0.85" fill="#98794a" opacity="0.8"/>
<ellipse cx="527.9" cy="280.9" rx="2.2" ry="1.87" fill="#98794a" opacity="0.8"/>
<ellipse cx="263.4" cy="313.1" rx="1" ry="0.85" fill="#b89b6a" opacity="0.8"/>
<ellipse cx="478.8" cy="310.1" rx="1.6" ry="1.36" fill="#b89b6a" opacity="0.8"/>
<ellipse cx="622.4" cy="291.0" rx="1.3" ry="1.10" fill="#98794a" opacity="0.8"/>
<ellipse cx="350.6" cy="290.5" rx="1.6" ry="1.36" fill="#b89b6a" opacity="0.8"/>
<ellipse cx="602.7" cy="275.3" rx="2.8" ry="2.38" fill="#98794a" opacity="0.8"/>
<ellipse cx="315.3" cy="315.6" rx="2.2" ry="1.87" fill="#b89b6a" opacity="0.8"/>
<ellipse cx="275.8" cy="308.5" rx="1" ry="0.85" fill="#b89b6a" opacity="0.8"/>
<ellipse cx="602.6" cy="283.5" rx="3.5" ry="2.98" fill="#98794a" opacity="0.8"/>
<ellipse cx="441.8" cy="255.1" rx="0.8" ry="0.68" fill="#b89b6a" opacity="0.8"/>
<ellipse cx="467.7" cy="264.6" rx="1" ry="0.85" fill="#b89b6a" opacity="0.8"/>
<ellipse cx="573.7" cy="321.2" rx="1" ry="0.85" fill="#98794a" opacity="0.8"/>
<ellipse cx="648.5" cy="308.1" rx="1.3" ry="1.10" fill="#98794a" opacity="0.8"/>
<ellipse cx="298.7" cy="301.8" rx="2.2" ry="1.87" fill="#b89b6a" opacity="0.8"/>
<ellipse cx="630.8" cy="314.3" rx="2.8" ry="2.38" fill="#98794a" opacity="0.8"/>
<ellipse cx="398.8" cy="317.0" rx="2.2" ry="1.87" fill="#b89b6a" opacity="0.8"/>
<ellipse cx="512.1" cy="329.7" rx="2.8" ry="2.38" fill="#98794a" opacity="0.8"/>
<ellipse cx="445.8" cy="350.3" rx="2.2" ry="1.87" fill="#b89b6a" opacity="0.8"/>
<ellipse cx="613.7" cy="301.0" rx="2.8" ry="2.38" fill="#98794a" opacity="0.8"/>
<ellipse cx="375.8" cy="276.6" rx="1.3" ry="1.10" fill="#b89b6a" opacity="0.8"/>
<ellipse cx="397.3" cy="264.8" rx="3.5" ry="2.98" fill="#b89b6a" opacity="0.8"/>
<ellipse cx="442.5" cy="210.0" rx="2.2" ry="1.87" fill="#b89b6a" opacity="0.8"/>
<ellipse cx="430.6" cy="242.2" rx="1" ry="0.85" fill="#b89b6a" opacity="0.8"/>
<ellipse cx="481.4" cy="306.8" rx="2.8" ry="2.38" fill="#b89b6a" opacity="0.8"/>
<ellipse cx="622.9" cy="314.5" rx="1.6" ry="1.36" fill="#98794a" opacity="0.8"/>
<ellipse cx="436.6" cy="325.3" rx="1" ry="0.85" fill="#b89b6a" opacity="0.8"/>
<ellipse cx="522.3" cy="350.8" rx="2.8" ry="2.38" fill="#98794a" opacity="0.8"/>
<ellipse cx="434.0" cy="275.2" rx="2.8" ry="2.38" fill="#b89b6a" opacity="0.8"/>
<ellipse cx="590.9" cy="334.8" rx="2.2" ry="1.87" fill="#98794a" opacity="0.8"/>
<ellipse cx="634.6" cy="316.1" rx="1.3" ry="1.10" fill="#98794a" opacity="0.8"/>
<ellipse cx="617.5" cy="281.1" rx="3.5" ry="2.98" fill="#98794a" opacity="0.8"/>
<ellipse cx="411.1" cy="252.4" rx="0.8" ry="0.68" fill="#b89b6a" opacity="0.8"/>
<ellipse cx="321.7" cy="312.8" rx="2.8" ry="2.38" fill="#b89b6a" opacity="0.8"/>
<ellipse cx="546.7" cy="301.9" rx="3.5" ry="2.98" fill="#98794a" opacity="0.8"/>
<ellipse cx="466.6" cy="280.4" rx="2.8" ry="2.38" fill="#b89b6a" opacity="0.8"/>
<ellipse cx="459.4" cy="225.6" rx="0.8" ry="0.68" fill="#b89b6a" opacity="0.8"/>
<ellipse cx="428.6" cy="333.1" rx="1.3" ry="1.10" fill="#b89b6a" opacity="0.8"/>
<ellipse cx="472.9" cy="226.5" rx="3.5" ry="2.98" fill="#98794a" opacity="0.8"/>
<ellipse cx="420.0" cy="294.4" rx="1.3" ry="1.10" fill="#b89b6a" opacity="0.8"/>
<ellipse cx="355.8" cy="281.4" rx="1.3" ry="1.10" fill="#b89b6a" opacity="0.8"/>
<ellipse cx="360.1" cy="262.9" rx="1" ry="0.85" fill="#b89b6a" opacity="0.8"/>
<ellipse cx="399.5" cy="324.2" rx="0.8" ry="0.68" fill="#b89b6a" opacity="0.8"/>
<ellipse cx="616.4" cy="306.4" rx="1" ry="0.85" fill="#98794a" opacity="0.8"/>
<ellipse cx="481.4" cy="273.5" rx="0.8" ry="0.68" fill="#98794a" opacity="0.8"/>
<ellipse cx="545.8" cy="313.7" rx="1.6" ry="1.36" fill="#98794a" opacity="0.8"/>
<ellipse cx="476.0" cy="254.8" rx="1.6" ry="1.36" fill="#98794a" opacity="0.8"/>
<ellipse cx="523.9" cy="249.3" rx="1" ry="0.85" fill="#98794a" opacity="0.8"/>
<ellipse cx="467.8" cy="319.5" rx="0.8" ry="0.68" fill="#b89b6a" opacity="0.8"/>
<ellipse cx="497.0" cy="240.8" rx="2.8" ry="2.38" fill="#98794a" opacity="0.8"/>
<ellipse cx="500.1" cy="230.3" rx="1" ry="0.85" fill="#98794a" opacity="0.8"/>
<ellipse cx="352.6" cy="298.9" rx="1" ry="0.85" fill="#b89b6a" opacity="0.8"/>
<ellipse cx="427.4" cy="350.5" rx="2.8" ry="2.38" fill="#b89b6a" opacity="0.8"/>
<ellipse cx="422.3" cy="273.4" rx="1" ry="0.85" fill="#b89b6a" opacity="0.8"/>
<ellipse cx="463.7" cy="355.3" rx="0.8" ry="0.68" fill="#b89b6a" opacity="0.8"/>
<ellipse cx="482.3" cy="279.7" rx="2.2" ry="1.87" fill="#98794a" opacity="0.8"/>
<ellipse cx="404.9" cy="238.4" rx="1.6" ry="1.36" fill="#b89b6a" opacity="0.8"/>
<ellipse cx="456.6" cy="323.5" rx="1.3" ry="1.10" fill="#b89b6a" opacity="0.8"/>
<ellipse cx="394.0" cy="330.4" rx="0.8" ry="0.68" fill="#b89b6a" opacity="0.8"/>
<ellipse cx="499.6" cy="267.1" rx="1" ry="0.85" fill="#98794a" opacity="0.8"/>
<ellipse cx="406.7" cy="321.8" rx="1.6" ry="1.36" fill="#b89b6a" opacity="0.8"/>
<ellipse cx="444" cy="264" rx="3" ry="3.5" fill="#b89a68"/>
<ellipse cx="446" cy="313" rx="6" ry="10" fill="#c4a875" opacity="0.7"/>
<path d="M518.3,353.1 C515.9,349.7 514.9,344.0 521.1,339.5 C527.2,334.9 544.1,330.5 555.1,325.9 C566.2,321.2 578.3,315.9 587.3,311.4 C596.4,306.9 600.4,302.1 609.4,298.7 C618.4,295.3 633.8,293.3 641.6,291.0 C649.4,288.7 649.4,287.3 656.3,285.1 C663.2,282.8 675.3,279.7 683.0,277.4 C690.7,275.1 694.7,270.6 702.3,271.5 C710.0,272.3 719.0,280.0 729.0,282.5 C739.0,285.1 754.5,284.8 762.1,286.8 C769.8,288.7 768.6,292.1 775.0,294.4 C781.4,296.7 792.5,298.5 800.8,300.4 C809.0,302.2 818.2,302.5 824.7,305.5 C831.1,308.4 833.0,314.5 839.4,318.2 C845.8,321.9 860.4,324.4 863.3,327.6 C866.2,330.7 867.3,332.9 856.9,336.9 C846.5,340.9 815.0,346.8 800.8,351.4 C786.5,355.9 786.0,358.7 771.3,364.1 C756.6,369.5 726.2,379.5 712.4,383.7 C698.6,387.8 700.8,389.7 688.5,388.8 C676.3,387.8 654.5,380.8 638.8,377.7 C623.2,374.6 611.9,373.0 594.7,370.1 C577.5,367.1 548.5,362.7 535.8,359.9 C523.1,357.0 520.8,356.5 518.3,353.1 Z" fill="#4a4a4a"/>
<polygon points="690.5,258.8 705.2,258.7 715.2,270.5 707.7,282.2 690.4,278.8 684.5,274.2" fill="#626262" stroke="#626262" stroke-width="2" stroke-linejoin="round"/>
<polygon points="701.3,268.2 690.5,258.8 705.2,258.7 715.2,270.5" fill="#bababa"/>
<polygon points="701.3,268.2 715.2,270.5 707.7,282.2 690.4,278.8" fill="#474747"/>
<polygon points="673.0,279.0 685.8,262.5 704.4,265.9 709.6,279.1 704.7,291.1 694.7,293.7 674.0,284.8" fill="#7e7e7e" stroke="#7e7e7e" stroke-width="2" stroke-linejoin="round"/>
<polygon points="691.0,274.9 685.8,262.5 704.4,265.9 709.6,279.1 704.7,291.1 694.7,293.7" fill="#595959"/>
<polygon points="691.0,274.9 674.0,284.8 673.0,279.0 685.8,262.5" fill="#b2b2b2"/>
<polygon points="697.2,280.4 702.6,265.0 721.3,263.5 732.7,271.9 723.3,293.8 708.0,294.1" fill="#666666" stroke="#666666" stroke-width="2" stroke-linejoin="round"/>
<polygon points="712.3,281.7 697.2,280.4 702.6,265.0 721.3,263.5" fill="#c2c2c2"/>
<polygon points="712.3,281.7 721.3,263.5 732.7,271.9 723.3,293.8" fill="#444444"/>
<polygon points="669.7,269.3 683.4,277.2 682.8,288.3 676.2,295.6 662.1,294.1 648.5,283.3 657.3,269.4" fill="#626262" stroke="#626262" stroke-width="2" stroke-linejoin="round"/>
<polygon points="672.4,281.3 669.7,269.3 683.4,277.2 682.8,288.3 676.2,295.6" fill="#474747"/>
<polygon points="672.4,281.3 662.1,294.1 648.5,283.3 657.3,269.4 669.7,269.3" fill="#b2b2b2"/>
<polygon points="665.2,280.0 675.7,271.8 703.5,274.3 708.7,285.1 687.7,301.9 672.6,297.1" fill="#666666" stroke="#666666" stroke-width="2" stroke-linejoin="round"/>
<polygon points="685.9,285.2 703.5,274.3 708.7,285.1 687.7,301.9" fill="#444444"/>
<polygon points="685.9,285.2 672.6,297.1 665.2,280.0 675.7,271.8 703.5,274.3" fill="#b2b2b2"/>
<polygon points="729.5,286.8 741.4,272.5 770.1,280.4 767.8,294.5 747.8,303.8" fill="#6e6e6e" stroke="#6e6e6e" stroke-width="2" stroke-linejoin="round"/>
<polygon points="751.7,290.8 729.5,286.8 741.4,272.5 770.1,280.4" fill="#c2c2c2"/>
<polygon points="751.7,290.8 770.1,280.4 767.8,294.5 747.8,303.8" fill="#3f3f3f"/>
<polygon points="658.7,297.4 648.2,299.9 633.2,289.5 636.4,279.2 651.0,274.5 665.9,282.3" fill="#626262" stroke="#626262" stroke-width="2" stroke-linejoin="round"/>
<polygon points="647.5,284.8 633.2,289.5 636.4,279.2 651.0,274.5" fill="#aaaaaa"/>
<polygon points="647.5,284.8 651.0,274.5 665.9,282.3 658.7,297.4 648.2,299.9" fill="#3f3f3f"/>
<polygon points="744.5,281.3 753.8,275.3 775.0,277.1 781.9,288.6 765.1,302.8 751.0,301.6" fill="#6e6e6e" stroke="#6e6e6e" stroke-width="2" stroke-linejoin="round"/>
<polygon points="765.3,285.0 753.8,275.3 775.0,277.1 781.9,288.6 765.1,302.8" fill="#3f3f3f"/>
<polygon points="765.3,285.0 751.0,301.6 744.5,281.3 753.8,275.3" fill="#bababa"/>
<polygon points="731.6,308.3 703.0,295.5 710.6,278.1 741.9,279.3 751.0,293.5" fill="#7e7e7e" stroke="#7e7e7e" stroke-width="2" stroke-linejoin="round"/>
<polygon points="731.1,293.7 710.6,278.1 741.9,279.3" fill="#b6b6b6"/>
<polygon points="731.1,293.7 741.9,279.3 751.0,293.5 731.6,308.3" fill="#505050"/>
<polygon points="632.1,297.8 642.4,277.1 660.9,282.8 664.6,295.6 649.2,305.6" fill="#666666" stroke="#666666" stroke-width="2" stroke-linejoin="round"/>
<polygon points="650.9,292.1 642.4,277.1 660.9,282.8" fill="#aaaaaa"/>
<polygon points="650.9,292.1 660.9,282.8 664.6,295.6 649.2,305.6" fill="#3f3f3f"/>
<polygon points="752.4,299.3 752.7,282.8 766.9,278.6 787.9,289.7 786.0,300.2 767.4,308.1" fill="#7e7e7e" stroke="#7e7e7e" stroke-width="2" stroke-linejoin="round"/>
<polygon points="772.9,296.4 752.4,299.3 752.7,282.8 766.9,278.6" fill="#aaaaaa"/>
<polygon points="772.9,296.4 766.9,278.6 787.9,289.7 786.0,300.2 767.4,308.1" fill="#444444"/>
<polygon points="629.5,282.4 643.6,296.1 633.9,307.8 616.0,308.6 608.4,297.5 617.6,285.6" fill="#666666" stroke="#666666" stroke-width="2" stroke-linejoin="round"/>
<polygon points="628.2,292.2 629.5,282.4 643.6,296.1 633.9,307.8 616.0,308.6" fill="#3f3f3f"/>
<polygon points="628.2,292.2 608.4,297.5 617.6,285.6 629.5,282.4" fill="#aaaaaa"/>
<polygon points="785.6,312.2 774.9,306.0 778.5,290.2 794.9,287.3 802.3,303.3" fill="#6e6e6e" stroke="#6e6e6e" stroke-width="2" stroke-linejoin="round"/>
<polygon points="790.5,303.5 778.5,290.2 794.9,287.3 802.3,303.3" fill="#b6b6b6"/>
<polygon points="790.5,303.5 802.3,303.3 785.6,312.2 774.9,306.0" fill="#3f3f3f"/>
<polygon points="810.4,292.0 822.8,298.7 818.3,313.8 797.8,313.8 795.4,296.8" fill="#6e6e6e" stroke="#6e6e6e" stroke-width="2" stroke-linejoin="round"/>
<polygon points="807.5,304.2 810.4,292.0 822.8,298.7 818.3,313.8 797.8,313.8" fill="#595959"/>
<polygon points="807.5,304.2 795.4,296.8 810.4,292.0" fill="#b2b2b2"/>
<polygon points="798.3,300.0 806.5,293.0 818.1,293.0 826.8,301.9 826.0,311.5 810.0,317.1 802.6,314.6" fill="#767676" stroke="#767676" stroke-width="2" stroke-linejoin="round"/>
<polygon points="813.1,304.6 798.3,300.0 806.5,293.0 818.1,293.0" fill="#aaaaaa"/>
<polygon points="813.1,304.6 818.1,293.0 826.8,301.9 826.0,311.5 810.0,317.1" fill="#3f3f3f"/>
<polygon points="789.2,315.0 774.1,322.8 755.3,315.6 754.3,293.0 770.1,286.2 793.6,298.0" fill="#767676" stroke="#767676" stroke-width="2" stroke-linejoin="round"/>
<polygon points="768.3,305.1 755.3,315.6 754.3,293.0 770.1,286.2 793.6,298.0" fill="#bababa"/>
<polygon points="768.3,305.1 793.6,298.0 789.2,315.0 774.1,322.8" fill="#3f3f3f"/>
<polygon points="685.6,316.5 664.4,320.4 651.5,313.3 654.9,296.3 663.7,291.2 683.6,292.0 692.0,302.5" fill="#6e6e6e" stroke="#6e6e6e" stroke-width="2" stroke-linejoin="round"/>
<polygon points="674.3,302.1 651.5,313.3 654.9,296.3 663.7,291.2 683.6,292.0" fill="#b6b6b6"/>
<polygon points="674.3,302.1 683.6,292.0 692.0,302.5 685.6,316.5 664.4,320.4" fill="#444444"/>
<polygon points="721.6,299.5 719.3,315.0 694.2,320.2 682.3,311.9 681.5,297.4 701.9,286.0" fill="#626262" stroke="#626262" stroke-width="2" stroke-linejoin="round"/>
<polygon points="704.0,301.4 721.6,299.5 719.3,315.0 694.2,320.2" fill="#595959"/>
<polygon points="704.0,301.4 681.5,297.4 701.9,286.0 721.6,299.5" fill="#c2c2c2"/>
<polygon points="599.1,296.7 605.2,296.9 610.1,307.8 604.7,312.6 593.6,315.0 584.9,308.4 590.1,297.8" fill="#7e7e7e" stroke="#7e7e7e" stroke-width="2" stroke-linejoin="round"/>
<polygon points="597.7,306.8 599.1,296.7 605.2,296.9 610.1,307.8 604.7,312.6" fill="#505050"/>
<polygon points="597.7,306.8 584.9,308.4 590.1,297.8 599.1,296.7" fill="#aaaaaa"/>
<polygon points="582.1,301.7 603.6,289.9 617.3,303.2 615.4,317.7 588.8,318.5" fill="#767676" stroke="#767676" stroke-width="2" stroke-linejoin="round"/>
<polygon points="600.8,307.3 582.1,301.7 603.6,289.9 617.3,303.2" fill="#bababa"/>
<polygon points="600.8,307.3 617.3,303.2 615.4,317.7 588.8,318.5" fill="#474747"/>
<polygon points="618.5,322.5 606.3,300.2 621.0,290.6 649.2,303.6 648.0,317.4" fill="#767676" stroke="#767676" stroke-width="2" stroke-linejoin="round"/>
<polygon points="630.0,306.4 606.3,300.2 621.0,290.6 649.2,303.6" fill="#c2c2c2"/>
<polygon points="630.0,306.4 649.2,303.6 648.0,317.4 618.5,322.5" fill="#3f3f3f"/>
<polygon points="741.4,290.5 760.5,294.6 764.0,311.7 747.0,326.7 725.6,314.1 724.6,304.5" fill="#7e7e7e" stroke="#7e7e7e" stroke-width="2" stroke-linejoin="round"/>
<polygon points="742.6,302.7 741.4,290.5 760.5,294.6 764.0,311.7 747.0,326.7" fill="#3f3f3f"/>
<polygon points="742.6,302.7 725.6,314.1 724.6,304.5 741.4,290.5" fill="#aaaaaa"/>
<polygon points="830.0,324.9 821.7,313.1 835.3,302.7 850.2,311.5 844.1,324.8" fill="#767676" stroke="#767676" stroke-width="2" stroke-linejoin="round"/>
<polygon points="839.4,312.3 821.7,313.1 835.3,302.7" fill="#c2c2c2"/>
<polygon points="839.4,312.3 835.3,302.7 850.2,311.5 844.1,324.8 830.0,324.9" fill="#505050"/>
<polygon points="566.9,311.8 576.6,316.4 573.7,325.9 561.3,326.5 557.4,316.9" fill="#6e6e6e" stroke="#6e6e6e" stroke-width="2" stroke-linejoin="round"/>
<polygon points="567.3,320.8 566.9,311.8 576.6,316.4 573.7,325.9" fill="#595959"/>
<polygon points="567.3,320.8 561.3,326.5 557.4,316.9 566.9,311.8" fill="#aaaaaa"/>
<polygon points="851.1,317.1 859.3,317.2 864.0,322.8 860.9,327.2 857.0,329.6 846.8,325.2 846.6,322.7" fill="#7e7e7e" stroke="#7e7e7e" stroke-width="2" stroke-linejoin="round"/>
<polygon points="858.4,320.4 859.3,317.2 864.0,322.8 860.9,327.2 857.0,329.6" fill="#474747"/>
<polygon points="858.4,320.4 846.6,322.7 851.1,317.1 859.3,317.2" fill="#c2c2c2"/>
<polygon points="808.0,325.5 814.1,309.4 832.2,306.3 847.3,317.8 842.2,333.3 818.6,338.7" fill="#6e6e6e" stroke="#6e6e6e" stroke-width="2" stroke-linejoin="round"/>
<polygon points="829.8,319.4 832.2,306.3 847.3,317.8 842.2,333.3" fill="#3f3f3f"/>
<polygon points="829.8,319.4 818.6,338.7 808.0,325.5 814.1,309.4 832.2,306.3" fill="#aaaaaa"/>
<polygon points="636.5,324.2 624.0,337.6 602.7,343.9 586.8,331.5 589.5,318.7 600.5,304.1 622.7,305.0" fill="#767676" stroke="#767676" stroke-width="2" stroke-linejoin="round"/>
<polygon points="607.6,326.8 586.8,331.5 589.5,318.7 600.5,304.1 622.7,305.0" fill="#bababa"/>
<polygon points="607.6,326.8 622.7,305.0 636.5,324.2 624.0,337.6" fill="#444444"/>
<polygon points="741.7,327.7 725.2,337.6 710.5,339.4 698.5,327.9 707.1,309.6 731.9,310.3" fill="#6e6e6e" stroke="#6e6e6e" stroke-width="2" stroke-linejoin="round"/>
<polygon points="717.1,326.5 698.5,327.9 707.1,309.6 731.9,310.3" fill="#b2b2b2"/>
<polygon points="717.1,326.5 731.9,310.3 741.7,327.7 725.2,337.6 710.5,339.4" fill="#595959"/>
<polygon points="580.8,337.2 570.8,337.2 557.8,331.0 560.1,315.9 573.8,311.5 586.0,313.7 592.8,330.2" fill="#767676" stroke="#767676" stroke-width="2" stroke-linejoin="round"/>
<polygon points="575.7,319.6 560.1,315.9 573.8,311.5 586.0,313.7" fill="#aaaaaa"/>
<polygon points="575.7,319.6 586.0,313.7 592.8,330.2 580.8,337.2 570.8,337.2" fill="#474747"/>
<polygon points="779.0,314.5 778.0,334.5 758.8,344.3 737.8,328.2 752.3,310.4" fill="#767676" stroke="#767676" stroke-width="2" stroke-linejoin="round"/>
<polygon points="757.4,322.5 779.0,314.5 778.0,334.5 758.8,344.3" fill="#505050"/>
<polygon points="757.4,322.5 737.8,328.2 752.3,310.4 779.0,314.5" fill="#b2b2b2"/>
<polygon points="634.9,333.5 639.4,314.6 660.5,310.0 673.1,318.5 673.9,339.4 655.8,343.6" fill="#7e7e7e" stroke="#7e7e7e" stroke-width="2" stroke-linejoin="round"/>
<polygon points="659.6,325.7 634.9,333.5 639.4,314.6 660.5,310.0" fill="#c2c2c2"/>
<polygon points="659.6,325.7 660.5,310.0 673.1,318.5 673.9,339.4 655.8,343.6" fill="#595959"/>
<polygon points="690.8,314.6 700.8,325.7 696.3,339.1 670.3,338.6 664.4,327.0 669.8,318.7" fill="#7e7e7e" stroke="#7e7e7e" stroke-width="2" stroke-linejoin="round"/>
<polygon points="682.5,328.2 700.8,325.7 696.3,339.1 670.3,338.6" fill="#474747"/>
<polygon points="682.5,328.2 669.8,318.7 690.8,314.6 700.8,325.7" fill="#aaaaaa"/>
<polygon points="771.0,320.2 802.0,315.4 810.3,327.7 799.4,342.4 770.4,332.0" fill="#666666" stroke="#666666" stroke-width="2" stroke-linejoin="round"/>
<polygon points="792.2,330.5 771.0,320.2 802.0,315.4" fill="#b2b2b2"/>
<polygon points="792.2,330.5 802.0,315.4 810.3,327.7 799.4,342.4 770.4,332.0" fill="#474747"/>
<polygon points="856.0,320.3 868.7,321.6 876.9,327.1 875.1,337.5 860.4,341.9 851.1,336.1 849.5,324.4" fill="#767676" stroke="#767676" stroke-width="2" stroke-linejoin="round"/>
<polygon points="865.6,331.5 876.9,327.1 875.1,337.5 860.4,341.9" fill="#505050"/>
<polygon points="865.6,331.5 849.5,324.4 856.0,320.3 868.7,321.6 876.9,327.1" fill="#b2b2b2"/>
<polygon points="536.4,338.2 531.5,338.3 526.4,330.6 531.7,327.8 539.2,328.6 541.5,333.5" fill="#6e6e6e" stroke="#6e6e6e" stroke-width="2" stroke-linejoin="round"/>
<polygon points="536.9,328.4 526.4,330.6 531.7,327.8 539.2,328.6" fill="#aaaaaa"/>
<polygon points="536.9,328.4 539.2,328.6 541.5,333.5 536.4,338.2 531.5,338.3" fill="#3f3f3f"/>
<polygon points="848.9,349.2 835.7,349.4 828.7,341.3 831.9,332.5 846.1,328.3 853.6,332.2 857.9,342.7" fill="#626262" stroke="#626262" stroke-width="2" stroke-linejoin="round"/>
<polygon points="844.9,341.4 828.7,341.3 831.9,332.5 846.1,328.3" fill="#aaaaaa"/>
<polygon points="844.9,341.4 846.1,328.3 853.6,332.2 857.9,342.7 848.9,349.2 835.7,349.4" fill="#595959"/>
<polygon points="644.1,340.1 657.1,330.8 680.0,331.4 683.4,346.1 668.7,354.9 653.4,351.2" fill="#626262" stroke="#626262" stroke-width="2" stroke-linejoin="round"/>
<polygon points="661.1,340.9 644.1,340.1 657.1,330.8 680.0,331.4" fill="#aaaaaa"/>
<polygon points="661.1,340.9 680.0,331.4 683.4,346.1 668.7,354.9" fill="#3f3f3f"/>
<polygon points="714.5,335.0 737.2,322.4 757.2,330.9 759.6,345.7 741.6,358.0 720.4,352.9" fill="#7e7e7e" stroke="#7e7e7e" stroke-width="2" stroke-linejoin="round"/>
<polygon points="733.7,337.8 757.2,330.9 759.6,345.7 741.6,358.0" fill="#3f3f3f"/>
<polygon points="733.7,337.8 720.4,352.9 714.5,335.0 737.2,322.4 757.2,330.9" fill="#bababa"/>
<polygon points="562.0,359.7 542.6,357.3 542.2,333.4 556.0,326.6 571.6,332.6 574.2,354.4" fill="#6e6e6e" stroke="#6e6e6e" stroke-width="2" stroke-linejoin="round"/>
<polygon points="558.7,347.1 542.6,357.3 542.2,333.4 556.0,326.6" fill="#aaaaaa"/>
<polygon points="558.7,347.1 556.0,326.6 571.6,332.6 574.2,354.4 562.0,359.7" fill="#474747"/>
<polygon points="603.3,360.0 586.1,353.6 585.4,330.0 602.8,326.6 622.0,340.0" fill="#626262" stroke="#626262" stroke-width="2" stroke-linejoin="round"/>
<polygon points="596.1,339.9 586.1,353.6 585.4,330.0 602.8,326.6" fill="#c2c2c2"/>
<polygon points="596.1,339.9 602.8,326.6 622.0,340.0 603.3,360.0" fill="#505050"/>
<polygon points="513.4,349.9 511.1,343.6 516.9,337.6 526.7,338.8 531.9,342.9 527.6,349.5 519.8,352.7" fill="#626262" stroke="#626262" stroke-width="2" stroke-linejoin="round"/>
<polygon points="525.4,341.2 511.1,343.6 516.9,337.6 526.7,338.8" fill="#bababa"/>
<polygon points="525.4,341.2 526.7,338.8 531.9,342.9 527.6,349.5 519.8,352.7" fill="#3f3f3f"/>
<polygon points="683.6,347.4 702.5,328.9 729.1,341.7 727.7,358.6 700.2,362.5" fill="#626262" stroke="#626262" stroke-width="2" stroke-linejoin="round"/>
<polygon points="708.6,342.6 702.5,328.9 729.1,341.7 727.7,358.6" fill="#444444"/>
<polygon points="708.6,342.6 700.2,362.5 683.6,347.4 702.5,328.9" fill="#b2b2b2"/>
<polygon points="652.5,338.7 649.0,360.8 622.9,364.1 610.5,339.7 629.5,326.0" fill="#6e6e6e" stroke="#6e6e6e" stroke-width="2" stroke-linejoin="round"/>
<polygon points="634.6,345.9 622.9,364.1 610.5,339.7 629.5,326.0" fill="#bababa"/>
<polygon points="634.6,345.9 629.5,326.0 652.5,338.7 649.0,360.8" fill="#444444"/>
<polygon points="505.3,344.9 514.8,338.1 524.1,338.0 528.4,345.6 528.4,351.8 519.6,355.1 507.0,349.5" fill="#767676" stroke="#767676" stroke-width="2" stroke-linejoin="round"/>
<polygon points="518.5,346.8 514.8,338.1 524.1,338.0 528.4,345.6 528.4,351.8 519.6,355.1" fill="#595959"/>
<polygon points="518.5,346.8 507.0,349.5 505.3,344.9 514.8,338.1" fill="#b6b6b6"/>
<polygon points="798.6,337.9 792.8,358.5 775.1,362.6 756.7,350.3 773.8,330.0" fill="#626262" stroke="#626262" stroke-width="2" stroke-linejoin="round"/>
<polygon points="776.0,346.9 798.6,337.9 792.8,358.5 775.1,362.6" fill="#474747"/>
<polygon points="776.0,346.9 773.8,330.0 798.6,337.9" fill="#b6b6b6"/>
<polygon points="824.4,350.6 817.3,359.1 803.5,358.5 790.3,345.4 795.4,339.5 813.5,336.1 823.4,338.2" fill="#666666" stroke="#666666" stroke-width="2" stroke-linejoin="round"/>
<polygon points="805.4,345.2 790.3,345.4 795.4,339.5 813.5,336.1 823.4,338.2" fill="#aaaaaa"/>
<polygon points="805.4,345.2 823.4,338.2 824.4,350.6 817.3,359.1 803.5,358.5" fill="#3f3f3f"/>
<polygon points="817.4,358.0 808.1,350.2 809.3,342.4 824.9,339.0 827.9,344.4 826.6,355.8" fill="#626262" stroke="#626262" stroke-width="2" stroke-linejoin="round"/>
<polygon points="820.5,347.9 808.1,350.2 809.3,342.4 824.9,339.0" fill="#b6b6b6"/>
<polygon points="820.5,347.9 824.9,339.0 827.9,344.4 826.6,355.8" fill="#474747"/>
<polygon points="509.3,362.8 506.4,349.0 523.4,335.1 540.6,338.2 548.9,358.0 534.0,374.0" fill="#666666" stroke="#666666" stroke-width="2" stroke-linejoin="round"/>
<polygon points="529.3,355.5 506.4,349.0 523.4,335.1 540.6,338.2" fill="#aaaaaa"/>
<polygon points="529.3,355.5 540.6,338.2 548.9,358.0 534.0,374.0 509.3,362.8" fill="#595959"/>
<polygon points="774.2,347.2 792.9,343.7 805.3,355.0 802.7,363.9 781.1,371.6 773.0,364.0" fill="#666666" stroke="#666666" stroke-width="2" stroke-linejoin="round"/>
<polygon points="791.7,353.7 792.9,343.7 805.3,355.0 802.7,363.9" fill="#595959"/>
<polygon points="791.7,353.7 781.1,371.6 773.0,364.0 774.2,347.2 792.9,343.7" fill="#aaaaaa"/>
<polygon points="549.3,342.5 566.0,350.9 566.2,364.4 542.5,374.0 526.4,366.9 529.9,348.0" fill="#6e6e6e" stroke="#6e6e6e" stroke-width="2" stroke-linejoin="round"/>
<polygon points="548.5,355.7 549.3,342.5 566.0,350.9 566.2,364.4 542.5,374.0" fill="#474747"/>
<polygon points="548.5,355.7 526.4,366.9 529.9,348.0 549.3,342.5" fill="#aaaaaa"/>
<polygon points="790.7,365.8 789.9,360.3 794.5,355.5 800.1,355.3 807.0,360.7 803.9,367.4 798.6,368.4" fill="#6e6e6e" stroke="#6e6e6e" stroke-width="2" stroke-linejoin="round"/>
<polygon points="802.4,358.2 790.7,365.8 789.9,360.3 794.5,355.5 800.1,355.3" fill="#b2b2b2"/>
<polygon points="802.4,358.2 800.1,355.3 807.0,360.7 803.9,367.4 798.6,368.4" fill="#505050"/>
<polygon points="698.4,373.1 674.5,376.8 662.7,368.7 663.7,352.9 677.1,345.1 695.7,347.6 706.8,361.4" fill="#666666" stroke="#666666" stroke-width="2" stroke-linejoin="round"/>
<polygon points="684.7,360.7 663.7,352.9 677.1,345.1 695.7,347.6" fill="#b6b6b6"/>
<polygon points="684.7,360.7 695.7,347.6 706.8,361.4 698.4,373.1 674.5,376.8" fill="#505050"/>
<polygon points="776.8,351.0 772.8,374.8 746.3,378.1 738.5,364.4 751.5,345.8" fill="#7e7e7e" stroke="#7e7e7e" stroke-width="2" stroke-linejoin="round"/>
<polygon points="757.1,364.0 746.3,378.1 738.5,364.4 751.5,345.8" fill="#aaaaaa"/>
<polygon points="757.1,364.0 751.5,345.8 776.8,351.0 772.8,374.8" fill="#595959"/>
<polygon points="599.1,349.5 619.9,344.8 634.5,358.4 627.3,376.9 598.1,370.4" fill="#767676" stroke="#767676" stroke-width="2" stroke-linejoin="round"/>
<polygon points="619.1,357.1 599.1,349.5 619.9,344.8 634.5,358.4" fill="#b6b6b6"/>
<polygon points="619.1,357.1 634.5,358.4 627.3,376.9 598.1,370.4" fill="#505050"/>
<polygon points="551.6,373.3 528.1,374.0 521.2,364.0 538.3,351.0 557.1,359.7" fill="#767676" stroke="#767676" stroke-width="2" stroke-linejoin="round"/>
<polygon points="539.9,364.8 521.2,364.0 538.3,351.0" fill="#c2c2c2"/>
<polygon points="539.9,364.8 538.3,351.0 557.1,359.7 551.6,373.3 528.1,374.0" fill="#505050"/>
<polygon points="641.9,349.5 660.4,356.5 665.0,367.7 652.3,377.0 635.8,376.5 629.4,361.8" fill="#666666" stroke="#666666" stroke-width="2" stroke-linejoin="round"/>
<polygon points="644.2,362.2 660.4,356.5 665.0,367.7 652.3,377.0 635.8,376.5" fill="#474747"/>
<polygon points="644.2,362.2 629.4,361.8 641.9,349.5 660.4,356.5" fill="#b6b6b6"/>
<polygon points="601.5,378.1 577.8,382.8 555.6,367.4 561.1,356.8 586.5,343.9 604.9,356.6" fill="#7e7e7e" stroke="#7e7e7e" stroke-width="2" stroke-linejoin="round"/>
<polygon points="579.1,366.3 561.1,356.8 586.5,343.9 604.9,356.6" fill="#c2c2c2"/>
<polygon points="579.1,366.3 604.9,356.6 601.5,378.1 577.8,382.8" fill="#474747"/>
<polygon points="556.3,353.0 577.2,348.1 594.7,353.7 598.4,370.8 574.4,383.2 558.2,378.9 554.4,360.7" fill="#666666" stroke="#666666" stroke-width="2" stroke-linejoin="round"/>
<polygon points="573.3,362.2 577.2,348.1 594.7,353.7 598.4,370.8 574.4,383.2" fill="#474747"/>
<polygon points="573.3,362.2 558.2,378.9 554.4,360.7 556.3,353.0 577.2,348.1" fill="#aaaaaa"/>
<polygon points="764.2,380.0 739.3,372.6 742.0,352.0 764.3,351.8 774.1,360.3" fill="#6e6e6e" stroke="#6e6e6e" stroke-width="2" stroke-linejoin="round"/>
<polygon points="759.6,365.9 742.0,352.0 764.3,351.8 774.1,360.3" fill="#b6b6b6"/>
<polygon points="759.6,365.9 774.1,360.3 764.2,380.0 739.3,372.6" fill="#595959"/>
<polygon points="703.0,357.5 713.5,349.9 742.4,356.8 743.6,369.8 729.7,380.6 706.1,376.3" fill="#767676" stroke="#767676" stroke-width="2" stroke-linejoin="round"/>
<polygon points="723.8,362.6 703.0,357.5 713.5,349.9 742.4,356.8" fill="#aaaaaa"/>
<polygon points="723.8,362.6 742.4,356.8 743.6,369.8 729.7,380.6 706.1,376.3" fill="#474747"/>
<polygon points="631.3,382.1 622.0,387.1 595.7,384.0 592.0,368.2 612.1,355.8 633.6,365.0" fill="#767676" stroke="#767676" stroke-width="2" stroke-linejoin="round"/>
<polygon points="610.4,372.3 595.7,384.0 592.0,368.2 612.1,355.8" fill="#b6b6b6"/>
<polygon points="610.4,372.3 612.1,355.8 633.6,365.0 631.3,382.1 622.0,387.1" fill="#505050"/>
<polygon points="748.1,373.6 734.6,387.1 723.6,388.0 710.4,378.2 714.8,362.2 734.3,361.0" fill="#767676" stroke="#767676" stroke-width="2" stroke-linejoin="round"/>
<polygon points="722.3,371.6 723.6,388.0 710.4,378.2 714.8,362.2 734.3,361.0" fill="#b2b2b2"/>
<polygon points="722.3,371.6 734.3,361.0 748.1,373.6 734.6,387.1" fill="#444444"/>
<polygon points="609.4,386.8 608.5,371.8 615.3,365.0 637.0,363.9 648.7,373.4 646.5,386.0 630.7,394.8" fill="#767676" stroke="#767676" stroke-width="2" stroke-linejoin="round"/>
<polygon points="627.1,380.1 609.4,386.8 608.5,371.8 615.3,365.0 637.0,363.9" fill="#c2c2c2"/>
<polygon points="627.1,380.1 637.0,363.9 648.7,373.4 646.5,386.0 630.7,394.8" fill="#595959"/>
<polygon points="647.2,373.8 661.9,366.8 679.1,371.0 681.9,385.5 666.8,393.9 649.8,387.6" fill="#666666" stroke="#666666" stroke-width="2" stroke-linejoin="round"/>
<polygon points="663.1,375.3 647.2,373.8 661.9,366.8 679.1,371.0" fill="#b6b6b6"/>
<polygon points="663.1,375.3 679.1,371.0 681.9,385.5 666.8,393.9 649.8,387.6" fill="#474747"/>
<polygon points="677.3,375.6 708.9,366.1 724.4,382.9 704.2,397.7 681.4,396.7" fill="#626262" stroke="#626262" stroke-width="2" stroke-linejoin="round"/>
<polygon points="702.6,384.3 677.3,375.6 708.9,366.1" fill="#b2b2b2"/>
<polygon points="702.6,384.3 708.9,366.1 724.4,382.9 704.2,397.7" fill="#474747"/>
<polygon points="748.4,377.7 749.1,386.4 741.5,393.2 723.3,388.6 722.3,378.4 731.8,373.3" fill="#626262" stroke="#626262" stroke-width="2" stroke-linejoin="round"/>
<polygon points="736.2,383.0 748.4,377.7 749.1,386.4 741.5,393.2" fill="#444444"/>
<polygon points="736.2,383.0 723.3,388.6 722.3,378.4 731.8,373.3 748.4,377.7" fill="#b2b2b2"/>
<polygon points="679.9,374.6 672.8,400.3 654.6,400.7 645.2,376.8 665.2,369.4" fill="#666666" stroke="#666666" stroke-width="2" stroke-linejoin="round"/>
<polygon points="668.1,383.9 679.9,374.6 672.8,400.3 654.6,400.7" fill="#3f3f3f"/>
<polygon points="668.1,383.9 645.2,376.8 665.2,369.4 679.9,374.6" fill="#bababa"/>
<polygon points="719.0,398.2 690.5,396.2 688.4,379.2 709.7,367.0 725.6,387.8" fill="#626262" stroke="#626262" stroke-width="2" stroke-linejoin="round"/>
<polygon points="702.1,383.7 690.5,396.2 688.4,379.2 709.7,367.0" fill="#bababa"/>
<polygon points="702.1,383.7 709.7,367.0 725.6,387.8 719.0,398.2" fill="#3f3f3f"/>
<g font-family="Liberation Sans, sans-serif" font-weight="bold" fill="#1c1c1c">
<text x="307" y="377" font-size="21" transform="rotate(9 307 377)">m<tspan font-size="13" dy="-8">3</tspan><tspan dy="8"> sand</tspan></text>
<text x="555" y="425.5" font-size="20" transform="rotate(10.5 555 425.5)">zr cemvet</text>
<text x="789" y="421" font-size="19" transform="rotate(-20 789 421)">crvel</text>
<path d="M790.5,405.8 L797,403.2" stroke="#1c1c1c" stroke-width="2.2" stroke-linecap="round"/>
<text x="246" y="516.5" font-size="21" transform="rotate(11.5 246 516.5)">Water</text>
</g>
<g stroke="#222" stroke-width="2.2" fill="#222">
<line x1="345.5" y1="406" x2="345.5" y2="462"/><polygon points="345.5,400 342,408 349,408" stroke="none"/><circle cx="345.5" cy="463" r="2" stroke="none"/>
<line x1="583" y1="457" x2="583" y2="481"/><polygon points="583,451 579.5,459 586.5,459" stroke="none"/>
<line x1="814" y1="435" x2="814" y2="457" stroke-width="1.8"/><polygon points="814,430 810.5,438 817.5,438" stroke="none"/>
</g>
<g font-family="Liberation Sans, sans-serif" fill="#161616" stroke="#161616" stroke-width="1.2">
<text x="84.5" y="342.5" font-size="26" textLength="78" lengthAdjust="spacingAndGlyphs">0.55 m</text>
<text x="164.5" y="332.5" font-size="15" textLength="8.5" lengthAdjust="spacingAndGlyphs">3</text>
<text x="84.5" y="392.5" font-size="26" textLength="78" lengthAdjust="spacingAndGlyphs">0.85 m</text>
<text x="164.5" y="382.5" font-size="15" textLength="8.5" lengthAdjust="spacingAndGlyphs">3</text>
<text x="84.5" y="502.5" font-size="26" textLength="78" lengthAdjust="spacingAndGlyphs">0.32 m</text>
<text x="164.5" y="492.5" font-size="15" textLength="8.5" lengthAdjust="spacingAndGlyphs">3</text>
</g>
<g fill="#555553">
<rect x="214" y="131" width="76.5" height="47" rx="1.5"/>
<path d="M294.5,142 L320,142 L334,163 L334,189.5 L294.5,189.5 Z"/>
<rect x="214" y="182" width="120" height="7.5" rx="1.5"/>
</g>
<path d="M303.6,147 L319.4,147 L327.3,163 L303.6,163 Z" fill="#fefefe"/>
<circle cx="238.7" cy="192.3" r="14.2" fill="#fefefe"/>
<circle cx="238.7" cy="192.3" r="11.6" fill="#555553"/>
<circle cx="238.7" cy="192.3" r="4.4" fill="#fefefe"/>
<circle cx="307.5" cy="192.3" r="14.2" fill="#fefefe"/>
<circle cx="307.5" cy="192.3" r="11.6" fill="#555553"/>
<circle cx="307.5" cy="192.3" r="4.4" fill="#fefefe"/>
<g fill="#999999">
<circle cx="892" cy="103" r="34"/><circle cx="852" cy="110" r="22"/><circle cx="834" cy="128" r="28"/><circle cx="930" cy="128" r="28"/><rect x="834" y="112" width="96" height="34"/><circle cx="866" cy="143" r="20"/><circle cx="901.5" cy="144" r="18.5"/>
</g>
<path d="M845.5,171 C846.7,178.4 848.6,185.2 848.6,192.2 A7.8,7.8 0 0 1 833.0,192.2 C833.0,182.4 840.0,177.8 845.5,171 Z" fill="#7e7e7e"/>
<path d="M882.6,188 C883.8,196.6 886.0,204.8 886.0,212.5 A8.5,8.5 0 0 1 869.0,212.5 C869.0,201.9 876.6,195.8 882.6,188 Z" fill="#616161"/>
<path d="M921.2,167 C922.4,174.3 924.0,181.7 924.0,188.0 A7.0,7.0 0 0 1 910.0,188.0 C910.0,179.2 916.3,173.7 921.2,167 Z" fill="#848484"/>
<path d="M844.2,218 C845.4,225.7 847.0,233.7 847.0,240.0 A7.0,7.0 0 0 1 833.0,240.0 C833.0,231.2 839.3,225.0 844.2,218 Z" fill="#929292"/>
<rect x="1028.1" y="191.9" width="97.1" height="125.6" fill="#fefefe" stroke="#8a8a8a" stroke-width="5"/>
<g fill="#8c8c8c">
<rect x="1040.6" y="208.2" width="71.4" height="5.2"/>
<rect x="1040.6" y="220.7" width="71.4" height="5.2"/>
<rect x="1040.6" y="233.7" width="71.4" height="5.2"/>
<rect x="1040.6" y="246.8" width="71.4" height="5.2"/>
<rect x="1040.6" y="260.1" width="71.4" height="5.2"/>
<rect x="1040.6" y="273.6" width="42.4" height="5.2"/><rect x="1040.6" y="287.2" width="34" height="5.2"/>
</g>
<rect x="1090" y="283" width="21.5" height="20.3" rx="2" fill="#931a2f"/>
<path d="M1098,292.5 L1118.5,275" stroke="#a81c36" stroke-width="3.8" stroke-linecap="round"/>
<path d="M1098.3,292.2 L1103,288.2" stroke="#d47c8a" stroke-width="2.6" stroke-linecap="round"/>
<ellipse cx="1125" cy="649" rx="57" ry="22" fill="#a8a8a8" filter="url(#blur1)"/>
<path d="M942,485 L960,630 C963,660 1000,669 1040,669 C1080,669 1112,660 1115,630 L1131,485 Z" fill="#edf2f5"/>
<ellipse cx="1036.6" cy="484.8" rx="94" ry="22.5" fill="#eff4f6"/>
<path d="M952,500 L958,541 L1116,541 L1122,500 Z" fill="#f1f5f7" opacity="0.6"/>
<path d="M955,541 L967,625 C970,652 1000,659 1040,659 C1080,659 1104,652 1107,625 L1118,541 Z" fill="#6aaedb"/>
<path d="M1098,552 Q1094,615 1072,658 C1092,655 1104,647 1107,625 L1118,541 Z" fill="#4d94c5"/>
<ellipse cx="1036.5" cy="542" rx="81" ry="15.5" fill="#a9d6f1"/>
<path d="M1056.4,367.0 C1056.7,369.7 1065.2,375.3 1066.5,381.0 C1067.8,386.7 1066.5,394.3 1064.5,401.0 C1062.5,407.7 1057.8,414.6 1054.4,421.4 C1051.1,428.2 1046.8,434.6 1044.4,441.6 C1042.0,448.7 1040.7,456.7 1040.0,463.7 C1039.3,470.7 1039.2,478.4 1040.3,483.8 C1041.4,489.2 1044.4,494.3 1046.4,496.0 C1048.4,497.7 1050.7,497.4 1052.4,494.0 C1054.1,490.6 1055.4,483.2 1056.4,475.8 C1057.4,468.4 1056.8,456.7 1058.5,449.6 C1060.2,442.6 1062.8,438.9 1066.5,433.5 C1070.2,428.1 1077.4,423.1 1080.6,417.4 C1083.8,411.6 1085.9,405.4 1085.6,399.0 C1085.3,392.6 1082.1,384.7 1078.6,379.0 C1075.1,373.3 1068.2,367.0 1064.5,365.0 C1060.8,363.0 1056.1,364.3 1056.4,367.0 Z" fill="#e2ecf0"/>
<path d="M1016.0,395.3 C1013.7,398.0 1003.0,407.7 1003.0,415.4 C1003.0,423.1 1013.3,438.2 1016.0,441.6 C1018.7,445.0 1019.5,439.9 1019.0,435.5 C1018.5,431.1 1013.3,421.5 1013.0,415.4 C1012.7,409.3 1016.5,402.4 1017.0,399.0 C1017.5,395.6 1018.3,392.6 1016.0,395.3 Z" fill="#e2ecf0"/>
<ellipse cx="1090.7" cy="435.5" rx="4.4" ry="7.6" transform="rotate(20 1090.7 435.5)" fill="#e2ecf0"/>
<path d="M942.5,486 L960,630 C963,660 1000,669 1040,669 C1080,669 1112,660 1115,630 L1130.5,486" fill="none" stroke="#c8d5db" stroke-width="2.5"/>
<path d="M950,500 L966,630 C969,656 1000,663 1040,663 C1080,663 1107,656 1110,630 L1123,500" fill="none" stroke="#d8e3e8" stroke-width="2"/>
<ellipse cx="1036.6" cy="484.8" rx="92.5" ry="21.5" fill="none" stroke="#c3d1d8" stroke-width="4.5"/>
<ellipse cx="1036.6" cy="485.5" rx="89.5" ry="19" fill="none" stroke="#d6e1e6" stroke-width="1.2"/>
<circle cx="1082" cy="590" r="6.5" fill="#a9d3ef"/>
<circle cx="1006.3" cy="597.7" r="3.1" fill="#a9d3ef"/>
<circle cx="992.2" cy="630.8" r="6.6" fill="#a9d3ef"/>
<circle cx="1038.3" cy="648.4" r="4.2" fill="#a9d3ef"/>
<circle cx="1079" cy="542.6" r="2.8" fill="#a9d3ef"/>
<circle cx="1065.3" cy="611.8" r="1.7" fill="#a9d3ef"/>
</svg></body></html>
